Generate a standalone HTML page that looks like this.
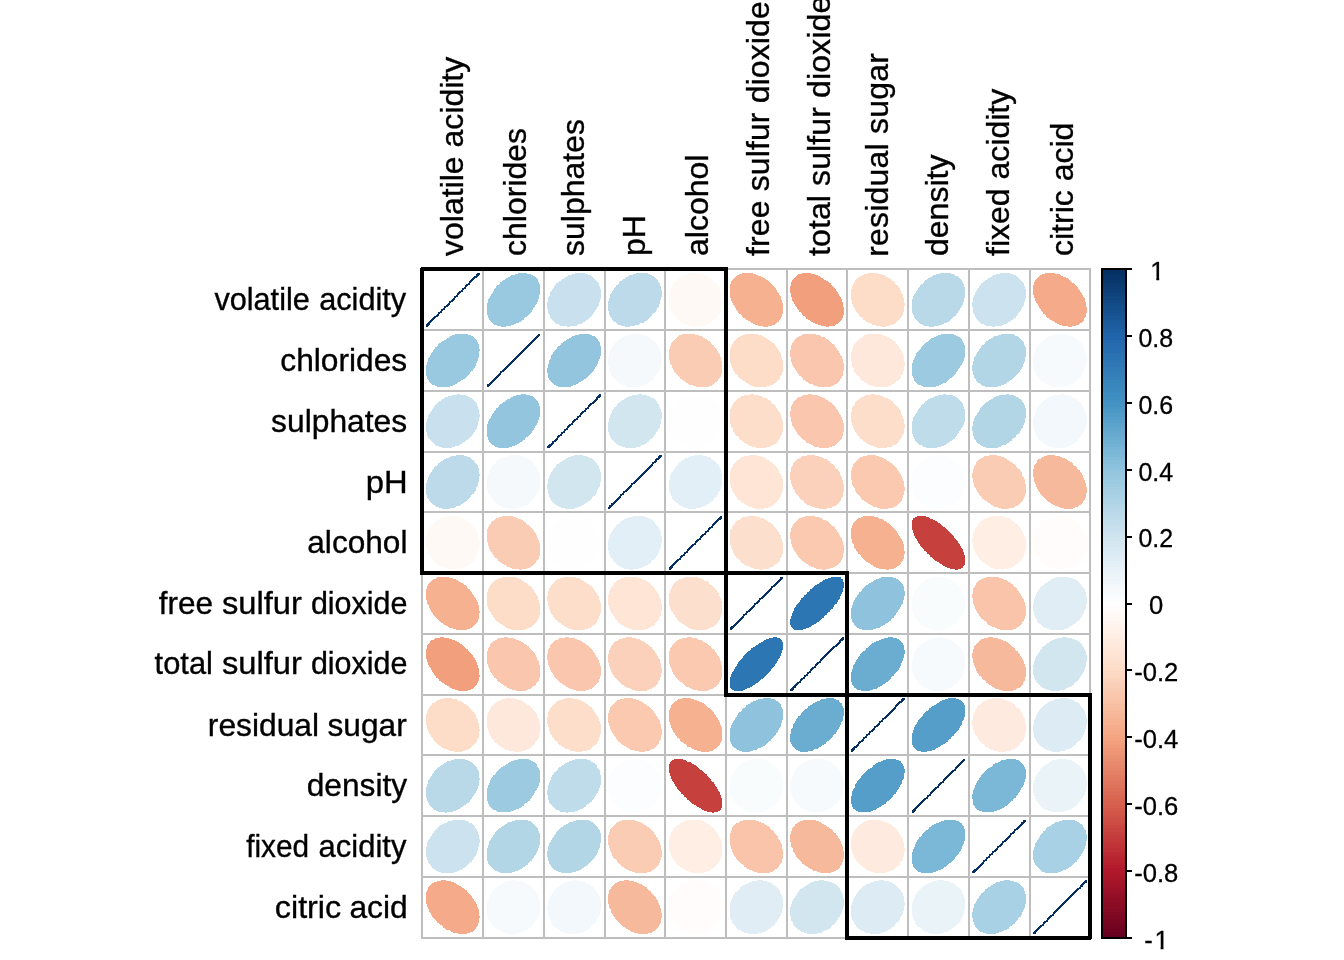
<!DOCTYPE html>
<html lang="en"><head><meta charset="utf-8"><title>Wine correlation plot</title>
<style>html,body{margin:0;padding:0;background:#fff;}body{width:1344px;height:960px;overflow:hidden;}svg{display:block;}</style></head>
<body>
<svg width="1344" height="960" viewBox="0 0 1344 960">
<rect width="1344" height="960" fill="#fff"/>
<g shape-rendering="crispEdges" stroke-width="2" stroke-linejoin="round" stroke-linecap="round">
<polyline points="479,274 478,274 478,275 477,275 477,276 476,277 475,277 474,278 473,279 472,280 471,281 470,282 469,284 467,285 466,286 465,288 463,289 462,291 460,292 458,294 457,296 455,297 454,299 452,301 450,302 449,304 447,306 445,307 444,309 442,310 441,312 439,313 438,315 437,316 435,317 434,318 433,319 432,320 431,321 430,322 429,323 429,324 428,324 428,325 427,325 427,326 427,325 428,325 428,324 429,324 429,323 430,322 431,321 432,320 433,319 434,318 435,317 437,316 438,315 439,313 441,312 442,310 444,309 445,307 447,306 449,304 450,302 452,301 454,299 455,297 457,296 458,294 460,292 462,291 463,289 465,288 466,286 467,285 469,284 470,282 471,281 472,280 473,279 474,278 475,277 476,277 477,276 477,275 478,275 478,274 479,274" fill="none" stroke="#053061" stroke-width="2.2"/>
<polygon points="535,278 534,277 533,277 532,276 530,275 529,275 528,275 526,274 525,274 524,274 522,274 520,274 519,274 517,275 516,275 514,276 512,276 511,277 509,278 507,279 506,280 504,281 503,282 501,283 500,285 498,286 497,287 496,289 495,290 494,292 493,294 492,295 491,297 490,299 489,300 489,302 488,304 488,305 488,307 488,308 488,310 488,311 488,313 488,314 489,316 489,317 490,318 490,319 491,320 492,321 493,322 494,323 495,324 496,324 498,325 499,325 500,325 502,326 503,326 505,326 506,325 508,325 510,325 511,324 513,324 515,323 516,322 518,322 520,321 521,320 523,319 524,317 526,316 527,315 529,313 530,312 531,311 532,309 533,307 534,306 535,304 536,303 537,301 537,299 538,298 538,296 539,294 539,293 539,291 539,290 539,288 539,287 539,285 538,284 538,283 537,281 537,280 536,279 535,278" fill="#99C9E0" stroke="#99C9E0"/>
<polygon points="594,280 593,279 592,278 591,277 590,276 588,276 587,275 585,275 584,274 582,274 581,274 579,274 577,274 576,274 574,275 573,275 571,276 569,276 568,277 566,278 565,279 563,280 562,281 560,282 559,283 557,284 556,286 555,287 554,289 553,290 552,292 551,293 551,295 550,297 549,298 549,300 549,301 548,303 548,305 548,306 548,308 549,309 549,311 549,312 550,314 551,315 551,317 552,318 553,319 554,320 555,321 556,322 557,323 559,323 560,324 561,325 563,325 564,325 566,325 568,326 569,326 571,325 572,325 574,325 576,325 577,324 579,323 581,323 582,322 584,321 585,320 587,319 588,318 590,316 591,315 592,314 593,312 594,311 595,309 596,308 597,306 598,305 598,303 599,301 599,300 600,298 600,296 600,295 600,293 600,292 600,290 599,289 599,287 598,286 598,284 597,283 596,282 595,281 594,280" fill="#C9E1EE" stroke="#C9E1EE"/>
<polygon points="655,279 654,278 653,277 652,277 651,276 649,275 648,275 647,274 645,274 643,274 642,274 640,274 639,274 637,274 635,275 634,275 632,276 630,276 629,277 627,278 626,279 624,280 623,281 621,282 620,283 619,285 617,286 616,288 615,289 614,291 613,292 612,294 611,295 611,297 610,299 610,300 609,302 609,304 609,305 609,307 609,308 609,310 610,311 610,313 610,314 611,316 612,317 613,318 613,319 614,320 615,321 617,322 618,323 619,324 620,324 622,325 623,325 625,325 626,326 628,326 629,326 631,325 633,325 634,325 636,324 638,324 639,323 641,322 643,322 644,321 646,320 647,319 649,317 650,316 651,315 652,313 654,312 655,311 656,309 657,307 658,306 658,304 659,303 659,301 660,299 660,298 661,296 661,294 661,293 661,291 660,290 660,288 660,287 659,285 659,284 658,283 657,281 656,280 655,279" fill="#BCDAEA" stroke="#BCDAEA"/>
<polygon points="713,282 712,281 711,280 710,279 708,278 707,277 705,276 704,276 702,275 700,275 699,274 697,274 696,274 694,274 692,274 691,274 689,275 687,275 686,276 684,276 683,277 681,278 680,279 679,280 678,281 676,282 675,283 674,284 673,286 673,287 672,289 671,290 671,292 670,293 670,295 670,296 670,298 670,300 670,301 670,303 670,305 671,306 671,308 672,309 673,311 674,312 674,314 675,315 677,316 678,318 679,319 680,320 682,321 683,322 684,323 686,323 688,324 689,324 691,325 692,325 694,325 696,326 697,326 699,325 701,325 702,325 704,325 705,324 707,323 708,323 710,322 711,321 712,320 714,319 715,318 716,317 717,315 718,314 719,313 719,311 720,310 720,308 721,306 721,305 721,303 721,301 721,300 721,298 721,297 721,295 720,293 720,292 719,290 718,289 718,287 717,286 716,284 715,283 713,282" fill="#FFF9F5" stroke="#FFF9F5"/>
<polygon points="771,285 770,284 768,282 767,281 765,280 764,279 762,278 760,277 759,277 757,276 755,275 754,275 752,274 750,274 749,274 747,274 746,274 744,274 743,274 741,275 740,275 739,276 738,276 737,277 736,278 735,279 734,280 733,281 732,282 732,284 731,285 731,286 731,288 731,289 731,291 731,292 731,294 731,296 731,297 732,299 732,300 733,302 734,304 735,305 736,307 737,309 738,310 739,312 740,313 742,314 743,316 744,317 746,318 747,319 749,320 751,321 752,322 754,323 756,324 757,324 759,325 761,325 762,325 764,326 765,326 767,326 768,325 770,325 771,325 772,324 774,324 775,323 776,322 777,321 778,321 779,319 780,318 780,317 781,316 781,315 782,313 782,312 782,310 782,309 782,307 782,306 782,304 781,302 781,301 780,299 780,297 779,296 778,294 777,293 776,291 775,289 774,288 772,286 771,285" fill="#F6B191" stroke="#F6B191"/>
<polygon points="831,286 830,284 828,283 827,282 825,281 823,280 822,279 820,278 819,277 817,276 815,276 814,275 812,275 810,274 809,274 807,274 806,274 804,274 803,274 801,275 800,275 799,275 798,276 797,277 796,278 795,279 794,280 793,281 793,282 792,283 792,284 792,286 791,287 791,288 791,290 791,292 792,293 792,295 792,296 793,298 793,300 794,301 795,303 796,305 797,306 798,308 799,309 800,311 802,312 803,314 804,315 806,316 807,318 809,319 811,320 812,321 814,322 816,323 817,323 819,324 820,324 822,325 824,325 825,325 827,326 828,326 830,325 831,325 833,325 834,325 835,324 836,323 837,323 838,322 839,321 840,320 841,319 841,318 842,317 842,315 843,314 843,313 843,311 843,310 843,308 842,306 842,305 842,303 841,302 841,300 840,298 839,297 838,295 837,293 836,292 835,290 834,289 832,287 831,286" fill="#F19F7D" stroke="#F19F7D"/>
<polygon points="894,283 893,282 891,281 890,280 889,279 887,278 885,277 884,276 882,276 881,275 879,275 877,274 876,274 874,274 872,274 871,274 869,274 868,275 866,275 865,275 863,276 862,277 861,277 859,278 858,279 857,280 856,281 855,283 855,284 854,285 853,287 853,288 852,290 852,291 852,293 852,294 852,296 852,298 852,299 853,301 853,303 854,304 854,306 855,307 856,309 857,311 858,312 859,313 860,315 861,316 863,317 864,319 866,320 867,321 869,322 870,322 872,323 873,324 875,324 877,325 878,325 880,325 882,326 883,326 885,326 886,325 888,325 889,325 891,324 892,324 894,323 895,322 896,321 897,320 898,319 899,318 900,317 901,316 902,314 902,313 903,311 903,310 903,308 903,307 904,305 904,304 903,302 903,300 903,299 902,297 902,295 901,294 900,292 900,291 899,289 898,288 897,286 895,285 894,283" fill="#FDDCC8" stroke="#FDDCC8"/>
<polygon points="959,279 958,278 957,277 956,277 954,276 953,275 952,275 950,274 949,274 947,274 946,274 944,274 942,274 941,274 939,275 937,275 936,276 934,276 933,277 931,278 929,279 928,280 926,281 925,282 924,284 922,285 921,286 920,288 919,289 918,291 917,292 916,294 915,295 914,297 914,299 913,300 913,302 913,304 913,305 913,307 913,309 913,310 913,312 914,313 914,314 915,316 915,317 916,318 917,319 918,320 919,321 920,322 921,323 923,324 924,324 925,325 927,325 928,325 930,326 931,326 933,326 935,325 936,325 938,325 939,324 941,324 943,323 944,322 946,322 948,321 949,320 951,318 952,317 953,316 955,315 956,313 957,312 958,310 959,309 960,307 961,306 962,304 962,302 963,301 963,299 964,297 964,296 964,294 964,293 964,291 964,289 964,288 963,287 963,285 962,284 962,283 961,281 960,280 959,279" fill="#B9D9E9" stroke="#B9D9E9"/>
<polygon points="1019,280 1018,279 1017,278 1016,277 1015,276 1013,276 1012,275 1010,275 1009,274 1007,274 1006,274 1004,274 1002,274 1001,274 999,275 997,275 996,276 994,276 993,277 991,278 989,279 988,280 986,281 985,282 984,283 982,284 981,286 980,287 979,289 978,290 977,292 976,293 976,295 975,296 974,298 974,300 974,301 973,303 973,305 973,306 974,308 974,309 974,311 974,312 975,314 976,315 976,316 977,318 978,319 979,320 980,321 981,322 982,323 984,323 985,324 987,325 988,325 990,325 991,325 993,326 994,326 996,325 998,325 999,325 1001,325 1003,324 1004,323 1006,323 1007,322 1009,321 1010,320 1012,319 1013,318 1015,317 1016,315 1017,314 1018,312 1019,311 1020,310 1021,308 1022,306 1023,305 1023,303 1024,301 1024,300 1025,298 1025,297 1025,295 1025,293 1025,292 1025,290 1024,289 1024,287 1023,286 1023,284 1022,283 1021,282 1020,281 1019,280" fill="#CCE2EF" stroke="#CCE2EF"/>
<polygon points="1074,285 1073,284 1071,283 1070,282 1068,280 1067,279 1065,278 1064,278 1062,277 1060,276 1059,275 1057,275 1055,275 1054,274 1052,274 1051,274 1049,274 1048,274 1046,274 1045,275 1043,275 1042,276 1041,276 1040,277 1039,278 1038,279 1037,280 1036,281 1036,282 1035,283 1035,285 1034,286 1034,287 1034,289 1034,290 1034,292 1034,294 1035,295 1035,297 1036,298 1036,300 1037,302 1038,303 1039,305 1040,307 1041,308 1042,310 1043,311 1044,313 1046,314 1047,316 1048,317 1050,318 1051,319 1053,320 1055,321 1056,322 1058,323 1060,324 1061,324 1063,325 1064,325 1066,325 1068,325 1069,326 1071,326 1072,325 1074,325 1075,325 1076,324 1078,324 1079,323 1080,322 1081,322 1082,321 1083,320 1083,319 1084,317 1085,316 1085,315 1085,314 1086,312 1086,311 1086,309 1086,308 1085,306 1085,304 1085,303 1084,301 1084,299 1083,298 1082,296 1081,294 1080,293 1079,291 1078,290 1077,288 1076,287 1074,285" fill="#F5AB8A" stroke="#F5AB8A"/>
<polygon points="474,339 473,338 472,337 471,337 470,336 468,336 467,335 466,335 464,335 463,335 461,335 460,335 458,335 456,335 455,336 453,336 451,337 450,338 448,339 447,340 445,341 443,342 442,343 440,344 439,345 438,347 436,348 435,350 434,351 433,353 432,354 431,356 430,358 429,359 429,361 428,363 428,364 427,366 427,367 427,369 427,371 427,372 427,374 427,375 428,376 428,378 429,379 430,380 430,381 431,382 432,383 433,384 434,384 436,385 437,385 438,386 440,386 441,386 443,386 444,386 446,386 447,386 449,386 451,385 452,385 454,384 456,383 457,382 459,381 460,380 462,379 464,378 465,377 466,376 468,374 469,373 470,371 472,370 473,368 474,367 475,365 475,363 476,362 477,360 477,358 478,357 478,355 478,354 478,352 479,350 478,349 478,347 478,346 478,345 477,343 476,342 476,341 475,340 474,339" fill="#99C9E0" stroke="#99C9E0"/>
<polyline points="539,335 538,336 537,337 536,338 535,339 534,340 533,341 532,342 531,343 530,344 528,346 527,347 525,349 524,350 522,352 521,353 519,355 518,356 516,358 514,360 513,361 511,363 509,365 508,366 506,368 505,369 503,371 501,372 500,374 499,375 497,377 496,378 495,379 494,380 493,381 492,382 491,383 490,384 489,385 488,385 488,386 488,385 489,385 490,384 491,383 492,382 493,381 494,380 495,379 496,378 497,377 499,375 500,374 501,372 503,371 505,369 506,368 508,366 509,365 511,363 513,361 514,360 516,358 518,356 519,355 521,353 522,352 524,350 525,349 527,347 528,346 530,344 531,343 532,342 533,341 534,340 535,339 536,338 537,337 538,336 539,335" fill="none" stroke="#053061" stroke-width="2.2"/>
<polygon points="596,339 595,338 594,337 593,337 591,336 590,336 589,335 587,335 586,335 584,335 583,335 581,335 580,335 578,336 576,336 575,337 573,337 572,338 570,339 568,340 567,341 565,342 564,343 562,344 561,346 559,347 558,348 557,350 556,351 554,353 553,355 552,356 552,358 551,360 550,361 550,363 549,365 549,366 549,368 548,369 548,371 548,372 549,374 549,375 549,377 550,378 550,379 551,380 552,381 553,382 554,383 555,384 556,384 557,385 558,385 559,386 561,386 562,386 564,386 565,386 567,386 569,386 570,386 572,385 573,384 575,384 577,383 578,382 580,381 582,380 583,379 585,378 586,377 588,375 589,374 590,373 592,371 593,370 594,368 595,366 596,365 597,363 597,361 598,360 599,358 599,357 600,355 600,353 600,352 600,350 600,349 600,347 599,346 599,345 599,343 598,342 597,341 597,340 596,339" fill="#93C5DE" stroke="#93C5DE"/>
<polygon points="654,342 652,341 651,340 650,339 648,338 647,337 645,337 644,336 642,335 641,335 639,335 638,335 636,335 634,335 633,335 631,335 629,336 628,336 626,337 625,337 623,338 622,339 620,340 619,341 618,342 616,343 615,345 614,346 613,347 612,349 612,350 611,352 610,353 610,355 610,357 609,358 609,360 609,362 609,363 609,365 610,366 610,368 610,370 611,371 612,373 612,374 613,375 614,377 615,378 616,379 617,380 619,381 620,382 621,383 623,384 624,384 626,385 627,386 629,386 631,386 632,386 634,386 636,386 637,386 639,386 640,385 642,385 644,384 645,384 647,383 648,382 649,381 651,380 652,379 653,378 654,376 655,375 656,374 657,372 658,371 659,369 659,368 660,366 660,364 660,363 661,361 661,360 661,358 660,356 660,355 660,353 659,351 659,350 658,348 657,347 657,346 656,344 655,343 654,342" fill="#F5F9FC" stroke="#F5F9FC"/>
<polygon points="711,345 710,343 709,342 707,341 706,340 704,339 702,338 701,337 699,337 698,336 696,336 694,335 693,335 691,335 689,335 688,335 686,335 685,335 683,335 682,336 680,336 679,337 678,338 677,339 676,340 675,341 674,342 673,343 672,344 672,345 671,347 671,348 670,350 670,351 670,353 670,354 670,356 670,358 670,359 671,361 671,363 672,364 673,366 673,367 674,369 675,371 676,372 677,373 679,375 680,376 681,378 683,379 684,380 686,381 687,382 689,383 690,384 692,384 694,385 695,385 697,386 699,386 700,386 702,386 703,386 705,386 706,386 708,386 709,385 711,385 712,384 713,383 714,382 716,381 717,380 717,379 718,378 719,377 720,376 720,374 721,373 721,371 721,370 721,368 721,367 721,365 721,363 721,362 720,360 720,358 719,357 719,355 718,354 717,352 716,350 715,349 714,348 713,346 711,345" fill="#FACCB4" stroke="#FACCB4"/>
<polygon points="773,344 771,343 770,342 769,341 767,340 766,339 764,338 762,337 761,336 759,336 757,335 756,335 754,335 753,335 751,335 749,335 748,335 746,335 745,336 743,336 742,337 741,337 739,338 738,339 737,340 736,341 735,342 734,343 733,345 733,346 732,347 731,349 731,350 731,352 731,354 731,355 731,357 731,358 731,360 731,362 732,363 732,365 733,367 734,368 734,370 735,371 736,373 738,374 739,376 740,377 741,378 743,379 744,380 746,381 747,382 749,383 750,384 752,385 753,385 755,386 757,386 758,386 760,386 762,386 763,386 765,386 766,386 768,385 769,385 771,384 772,384 773,383 775,382 776,381 777,380 778,379 779,378 779,376 780,375 781,374 781,372 782,371 782,369 782,368 782,366 782,364 782,363 782,361 781,359 781,358 780,356 780,354 779,353 778,351 777,350 776,348 775,347 774,345 773,344" fill="#FDDCC8" stroke="#FDDCC8"/>
<polygon points="833,345 831,344 830,343 828,341 827,340 825,339 824,338 822,338 820,337 819,336 817,336 815,335 814,335 812,335 811,335 809,335 807,335 806,335 804,335 803,336 802,336 800,337 799,338 798,338 797,339 796,340 795,341 794,343 793,344 793,345 792,346 792,348 792,349 791,351 791,352 791,354 791,356 792,357 792,359 792,361 793,362 793,364 794,366 795,367 796,369 797,370 798,372 799,373 800,375 802,376 803,377 804,379 806,380 807,381 809,382 810,383 812,383 814,384 815,385 817,385 819,386 820,386 822,386 824,386 825,386 827,386 828,386 830,386 831,385 832,385 834,384 835,383 836,383 837,382 838,381 839,380 840,378 841,377 841,376 842,375 842,373 842,372 843,370 843,369 843,367 843,365 843,364 842,362 842,360 841,359 841,357 840,356 839,354 838,352 837,351 836,349 835,348 834,346 833,345" fill="#FAC6AD" stroke="#FAC6AD"/>
<polygon points="895,343 894,342 892,341 891,340 889,339 888,338 886,337 885,337 883,336 881,336 880,335 878,335 876,335 875,335 873,335 872,335 870,335 868,335 867,336 865,336 864,337 863,338 861,339 860,340 859,341 858,342 857,343 856,344 855,345 854,347 854,348 853,350 853,351 852,353 852,354 852,356 852,358 852,359 852,361 853,363 853,364 853,366 854,367 855,369 855,371 856,372 857,374 858,375 860,376 861,378 862,379 863,380 865,381 866,382 868,383 869,384 871,384 872,385 874,385 876,386 877,386 879,386 881,386 882,386 884,386 886,386 887,386 889,385 890,385 891,384 893,383 894,382 895,381 897,380 898,379 899,378 900,377 900,376 901,374 902,373 902,371 903,370 903,368 903,367 904,365 904,363 903,362 903,360 903,358 903,357 902,355 902,354 901,352 900,350 899,349 898,347 897,346 896,345 895,343" fill="#FEE8DC" stroke="#FEE8DC"/>
<polygon points="960,339 959,338 958,338 957,337 955,336 954,336 953,335 951,335 950,335 948,335 947,335 945,335 944,335 942,335 940,336 939,336 937,337 935,338 934,339 932,339 931,340 929,342 927,343 926,344 925,345 923,347 922,348 921,350 920,351 918,353 917,354 917,356 916,357 915,359 914,361 914,362 913,364 913,366 913,367 913,369 913,370 913,372 913,373 913,375 914,376 914,377 915,379 915,380 916,381 917,382 918,383 919,384 920,384 922,385 923,385 924,386 926,386 927,386 929,386 930,386 932,386 933,386 935,386 937,385 938,385 940,384 942,383 943,382 945,382 946,381 948,379 949,378 951,377 952,376 954,374 955,373 956,371 957,370 958,368 959,367 960,365 961,364 962,362 963,360 963,359 964,357 964,355 964,354 964,352 964,351 964,349 964,348 964,346 963,345 963,344 962,342 961,341 961,340 960,339" fill="#9CCAE1" stroke="#9CCAE1"/>
<polygon points="1020,340 1019,339 1018,338 1017,337 1015,337 1014,336 1013,335 1011,335 1010,335 1008,335 1007,335 1005,335 1003,335 1002,335 1000,336 999,336 997,337 995,337 994,338 992,339 990,340 989,341 987,342 986,343 985,345 983,346 982,347 981,349 980,350 979,352 978,353 977,355 976,357 975,358 975,360 974,362 974,363 974,365 973,366 973,368 973,370 974,371 974,373 974,374 975,375 975,377 976,378 977,379 977,380 978,381 979,382 981,383 982,384 983,385 984,385 986,386 987,386 989,386 990,386 992,386 993,386 995,386 997,386 998,385 1000,385 1001,384 1003,384 1005,383 1006,382 1008,381 1009,380 1011,379 1012,378 1014,376 1015,375 1016,374 1018,372 1019,371 1020,369 1021,368 1022,366 1022,364 1023,363 1024,361 1024,359 1024,358 1025,356 1025,355 1025,353 1025,351 1025,350 1025,348 1024,347 1024,346 1023,344 1023,343 1022,342 1021,341 1020,340" fill="#B3D6E7" stroke="#B3D6E7"/>
<polygon points="1079,342 1077,341 1076,340 1075,339 1073,338 1072,337 1070,337 1069,336 1067,336 1066,335 1064,335 1062,335 1061,335 1059,335 1058,335 1056,335 1054,336 1053,336 1051,337 1050,337 1048,338 1047,339 1045,340 1044,341 1043,342 1041,343 1040,344 1039,346 1038,347 1037,349 1037,350 1036,352 1035,353 1035,355 1035,356 1034,358 1034,360 1034,361 1034,363 1034,365 1035,366 1035,368 1035,370 1036,371 1037,373 1037,374 1038,375 1039,377 1040,378 1041,379 1042,380 1044,381 1045,382 1046,383 1048,384 1049,384 1051,385 1052,386 1054,386 1056,386 1057,386 1059,386 1061,386 1062,386 1064,386 1066,385 1067,385 1069,384 1070,384 1072,383 1073,382 1075,381 1076,380 1077,379 1078,378 1080,377 1081,375 1081,374 1082,372 1083,371 1084,369 1084,368 1085,366 1085,365 1085,363 1086,361 1086,360 1086,358 1086,356 1085,355 1085,353 1084,352 1084,350 1083,348 1082,347 1082,346 1081,344 1080,343 1079,342" fill="#F7FAFC" stroke="#F7FAFC"/>
<polygon points="473,401 472,400 471,399 469,398 468,398 467,397 465,396 464,396 462,396 461,396 459,395 458,395 456,396 454,396 453,396 451,397 449,397 448,398 446,398 445,399 443,400 442,401 440,402 439,403 437,405 436,406 435,407 434,409 433,410 432,412 431,413 430,415 429,416 429,418 428,420 428,421 427,423 427,425 427,426 427,428 427,429 427,431 428,432 428,434 428,435 429,437 430,438 431,439 432,440 433,441 434,442 435,443 436,444 437,445 439,445 440,446 441,446 443,447 445,447 446,447 448,447 449,447 451,447 453,446 454,446 456,445 458,445 459,444 461,443 462,442 464,441 465,440 467,439 468,438 469,437 471,435 472,434 473,432 474,431 475,429 476,428 476,426 477,425 477,423 478,421 478,420 478,418 479,416 479,415 478,413 478,412 478,410 477,409 477,407 476,406 476,404 475,403 474,402 473,401" fill="#C9E1EE" stroke="#C9E1EE"/>
<polygon points="535,400 534,399 533,398 532,397 531,397 529,396 528,396 527,396 525,395 524,395 522,395 521,396 519,396 517,396 516,397 514,397 512,398 511,399 509,400 508,400 506,402 504,403 503,404 501,405 500,406 499,408 497,409 496,411 495,412 494,414 493,415 492,417 491,419 490,420 489,422 489,424 488,425 488,427 488,428 488,430 488,432 488,433 488,435 488,436 489,437 489,439 490,440 490,441 491,442 492,443 493,444 494,444 495,445 496,446 497,446 499,447 500,447 502,447 503,447 505,447 506,447 508,447 509,446 511,446 513,445 514,445 516,444 518,443 519,442 521,441 522,440 524,439 525,437 527,436 528,435 530,433 531,432 532,430 533,429 534,427 535,425 536,424 537,422 537,421 538,419 538,417 539,416 539,414 539,412 539,411 539,409 539,408 539,407 538,405 538,404 537,403 537,402 536,401 535,400" fill="#93C5DE" stroke="#93C5DE"/>
<polyline points="600,395 600,396 599,396 599,397 598,397 597,398 597,399 596,400 595,401 594,402 593,403 591,404 590,405 589,406 588,408 586,409 585,411 583,412 581,414 580,416 578,417 577,419 575,420 573,422 572,424 570,425 568,427 567,429 565,430 564,432 562,433 561,435 559,436 558,437 557,439 556,440 555,441 553,442 553,443 552,444 551,445 550,445 550,446 549,446 549,447 548,447 549,447 549,446 550,446 550,445 551,445 552,444 553,443 553,442 555,441 556,440 557,439 558,437 559,436 561,435 562,433 564,432 565,430 567,429 568,427 570,425 572,424 573,422 575,420 577,419 578,417 580,416 581,414 583,412 585,411 586,409 588,408 589,406 590,405 591,404 593,403 594,402 595,401 596,400 597,399 597,398 598,397 599,397 599,396 600,396 600,395" fill="none" stroke="#053061" stroke-width="2.2"/>
<polygon points="655,401 654,400 653,399 651,399 650,398 649,397 647,397 646,396 644,396 643,396 641,395 639,395 638,396 636,396 634,396 633,396 631,397 630,397 628,398 626,399 625,400 623,401 622,402 620,403 619,404 618,405 617,407 615,408 614,410 613,411 613,413 612,414 611,416 611,418 610,419 610,421 609,423 609,424 609,426 609,427 609,429 609,431 610,432 610,434 611,435 611,436 612,438 613,439 614,440 615,441 616,442 617,443 618,444 620,445 621,445 623,446 624,446 626,447 627,447 629,447 630,447 632,447 634,447 635,447 637,446 639,446 640,445 642,444 643,444 645,443 646,442 648,441 649,439 651,438 652,437 653,436 654,434 655,433 656,431 657,430 658,428 659,427 659,425 660,423 660,422 660,420 661,418 661,417 661,415 661,413 660,412 660,410 659,409 659,408 658,406 658,405 657,404 656,402 655,401" fill="#D2E6F0" stroke="#D2E6F0"/>
<polygon points="714,403 713,402 711,401 710,400 709,399 707,398 706,397 704,397 702,396 701,396 699,396 698,396 696,395 694,395 693,396 691,396 689,396 688,397 686,397 685,398 683,399 682,399 680,400 679,401 678,402 677,404 676,405 675,406 674,407 673,409 672,410 672,412 671,413 671,415 670,417 670,418 670,420 670,422 670,423 670,425 670,427 671,428 671,430 672,431 673,433 673,434 674,436 675,437 676,438 677,439 679,441 680,442 681,443 683,444 684,444 686,445 687,446 689,446 690,446 692,447 694,447 695,447 697,447 699,447 700,447 702,446 703,446 705,445 706,445 708,444 709,443 711,442 712,441 713,440 714,439 716,438 717,436 717,435 718,434 719,432 720,431 720,429 721,427 721,426 721,424 721,423 721,421 721,419 721,418 721,416 720,414 720,413 719,411 719,410 718,408 717,407 716,406 715,404 714,403" fill="#FFFEFE" stroke="#FFFEFE"/>
<polygon points="773,405 771,404 770,402 769,401 767,400 766,399 764,399 762,398 761,397 759,397 758,396 756,396 754,396 753,395 751,395 749,396 748,396 746,396 745,396 743,397 742,397 741,398 739,399 738,400 737,401 736,402 735,403 734,404 733,406 733,407 732,408 731,410 731,411 731,413 731,414 731,416 731,418 731,419 731,421 731,423 732,424 732,426 733,427 734,429 734,431 735,432 736,434 737,435 739,436 740,438 741,439 743,440 744,441 745,442 747,443 749,444 750,445 752,445 753,446 755,446 757,447 758,447 760,447 762,447 763,447 765,447 766,446 768,446 769,446 771,445 772,444 773,444 775,443 776,442 777,441 778,439 779,438 779,437 780,436 781,434 781,433 782,431 782,430 782,428 782,427 782,425 782,423 782,422 781,420 781,418 780,417 780,415 779,413 778,412 777,410 776,409 775,407 774,406 773,405" fill="#FDDECB" stroke="#FDDECB"/>
<polygon points="833,406 831,404 830,403 828,402 827,401 825,400 824,399 822,398 820,398 819,397 817,396 815,396 814,396 812,396 811,395 809,395 807,396 806,396 804,396 803,397 802,397 800,398 799,398 798,399 797,400 796,401 795,402 794,403 793,405 793,406 792,407 792,409 792,410 791,412 791,413 791,415 791,416 792,418 792,420 792,421 793,423 793,425 794,426 795,428 796,429 797,431 798,433 799,434 800,435 802,437 803,438 804,439 806,440 807,442 809,442 810,443 812,444 814,445 815,446 817,446 819,446 820,447 822,447 823,447 825,447 827,447 828,447 830,446 831,446 832,445 834,445 835,444 836,443 837,442 838,441 839,440 840,439 841,438 841,437 842,435 842,434 842,432 843,431 843,429 843,428 843,426 843,424 842,423 842,421 841,419 841,418 840,416 839,415 838,413 837,411 836,410 835,408 834,407 833,406" fill="#FAC6AD" stroke="#FAC6AD"/>
<polygon points="894,405 893,404 892,402 890,401 889,400 887,399 886,399 884,398 882,397 881,397 879,396 877,396 876,396 874,395 872,395 871,396 869,396 868,396 866,396 865,397 863,398 862,398 861,399 860,400 858,401 857,402 856,403 856,404 855,406 854,407 853,408 853,410 853,411 852,413 852,414 852,416 852,418 852,419 852,421 853,423 853,424 854,426 854,427 855,429 856,431 857,432 858,434 859,435 860,436 861,438 863,439 864,440 865,441 867,442 868,443 870,444 872,445 873,445 875,446 876,446 878,447 880,447 881,447 883,447 885,447 886,447 888,446 889,446 891,446 892,445 893,444 895,444 896,443 897,442 898,441 899,439 900,438 901,437 901,436 902,434 903,433 903,431 903,430 903,428 904,427 904,425 903,423 903,422 903,420 902,418 902,417 901,415 900,413 900,412 899,410 898,409 897,407 895,406 894,405" fill="#FDDECB" stroke="#FDDECB"/>
<polygon points="959,401 958,400 957,399 956,398 954,397 953,397 952,396 950,396 949,396 947,396 945,395 944,395 942,396 941,396 939,396 937,397 936,397 934,398 932,399 931,399 929,400 928,401 926,402 925,404 923,405 922,406 921,408 920,409 919,410 918,412 917,414 916,415 915,417 914,418 914,420 913,422 913,423 913,425 913,427 913,428 913,430 913,431 913,433 914,434 914,436 915,437 915,438 916,440 917,441 918,442 919,443 920,444 921,444 923,445 924,446 925,446 927,447 928,447 930,447 931,447 933,447 935,447 936,447 938,446 940,446 941,445 943,445 945,444 946,443 948,442 949,441 951,440 952,439 954,438 955,436 956,435 957,433 958,432 959,430 960,429 961,427 962,426 963,424 963,422 964,421 964,419 964,417 964,416 964,414 964,413 964,411 964,410 963,408 963,407 962,405 962,404 961,403 960,402 959,401" fill="#BFDCEB" stroke="#BFDCEB"/>
<polygon points="1020,400 1019,400 1018,399 1017,398 1015,397 1014,397 1013,396 1011,396 1010,396 1008,395 1007,395 1005,396 1004,396 1002,396 1000,396 999,397 997,397 995,398 994,399 992,400 990,401 989,402 987,403 986,404 985,405 983,407 982,408 981,409 980,411 979,413 978,414 977,416 976,417 975,419 975,421 974,422 974,424 974,426 973,427 973,429 973,430 974,432 974,433 974,435 975,436 975,438 976,439 977,440 977,441 978,442 979,443 981,444 982,445 983,445 984,446 986,446 987,447 989,447 990,447 992,447 993,447 995,447 997,447 998,446 1000,446 1001,445 1003,444 1005,444 1006,443 1008,442 1009,441 1011,440 1012,438 1014,437 1015,436 1016,434 1018,433 1019,432 1020,430 1021,428 1022,427 1022,425 1023,424 1024,422 1024,420 1024,419 1025,417 1025,415 1025,414 1025,412 1025,411 1025,409 1024,408 1024,406 1023,405 1023,404 1022,403 1021,401 1020,400" fill="#B3D6E7" stroke="#B3D6E7"/>
<polygon points="1079,402 1077,401 1076,400 1075,399 1074,399 1072,398 1071,397 1069,397 1068,396 1066,396 1064,396 1063,395 1061,395 1059,396 1058,396 1056,396 1054,396 1053,397 1051,397 1050,398 1048,399 1047,400 1045,401 1044,402 1043,403 1042,404 1040,405 1039,407 1038,408 1038,410 1037,411 1036,413 1036,414 1035,416 1035,417 1034,419 1034,421 1034,422 1034,424 1034,426 1035,427 1035,429 1035,430 1036,432 1037,433 1037,435 1038,436 1039,438 1040,439 1041,440 1042,441 1044,442 1045,443 1046,444 1048,445 1049,445 1051,446 1052,446 1054,447 1055,447 1057,447 1059,447 1060,447 1062,447 1064,447 1065,446 1067,446 1069,445 1070,444 1072,444 1073,443 1074,442 1076,441 1077,440 1078,438 1079,437 1080,436 1081,434 1082,433 1083,431 1084,430 1084,428 1085,427 1085,425 1085,423 1086,422 1086,420 1086,418 1086,417 1085,415 1085,414 1084,412 1084,411 1083,409 1083,408 1082,406 1081,405 1080,404 1079,402" fill="#F2F8FB" stroke="#F2F8FB"/>
<polygon points="473,461 472,461 471,460 470,459 469,458 467,458 466,457 464,457 463,456 461,456 460,456 458,456 457,456 455,457 453,457 452,457 450,458 448,459 447,459 445,460 444,461 442,462 441,463 439,464 438,466 436,467 435,468 434,470 433,471 432,473 431,474 430,476 429,478 429,479 428,481 428,483 427,484 427,486 427,487 427,489 427,491 427,492 427,494 428,495 428,497 429,498 430,499 430,500 431,501 432,502 433,503 434,504 436,505 437,506 438,506 440,507 441,507 443,508 444,508 446,508 447,508 449,508 451,507 452,507 454,507 455,506 457,505 459,505 460,504 462,503 463,502 465,501 466,500 468,498 469,497 470,496 471,494 473,493 474,491 475,490 475,488 476,486 477,485 477,483 478,481 478,480 478,478 478,477 479,475 478,473 478,472 478,470 478,469 477,467 477,466 476,465 475,464 474,463 473,461" fill="#BCDAEA" stroke="#BCDAEA"/>
<polygon points="532,463 531,462 530,461 528,460 527,459 526,459 524,458 522,457 521,457 519,457 518,456 516,456 514,456 513,456 511,456 509,457 508,457 506,458 505,458 503,459 502,460 500,460 499,461 497,462 496,464 495,465 494,466 493,467 492,469 491,470 490,472 490,473 489,475 489,476 488,478 488,480 488,481 488,483 488,485 488,486 488,488 488,489 489,491 489,493 490,494 491,496 492,497 493,498 494,499 495,501 496,502 497,503 499,504 500,505 501,505 503,506 504,507 506,507 508,507 509,508 511,508 512,508 514,508 516,508 517,507 519,507 521,506 522,506 524,505 525,504 527,504 528,503 529,502 531,500 532,499 533,498 534,497 535,495 536,494 537,492 537,491 538,489 538,488 539,486 539,484 539,483 539,481 539,479 539,478 539,476 538,474 538,473 537,471 537,470 536,468 535,467 534,466 533,465 532,463" fill="#F5F9FC" stroke="#F5F9FC"/>
<polygon points="594,462 593,461 592,460 591,459 589,459 588,458 586,457 585,457 583,457 582,456 580,456 579,456 577,456 575,456 574,457 572,457 570,458 569,458 567,459 566,460 564,461 563,462 561,463 560,464 558,465 557,466 556,468 555,469 554,470 553,472 552,473 551,475 550,477 550,478 549,480 549,482 549,483 548,485 548,487 548,488 549,490 549,491 549,493 550,494 550,496 551,497 551,498 552,500 553,501 554,502 555,503 556,504 558,505 559,505 560,506 562,507 563,507 565,507 566,508 568,508 570,508 571,508 573,508 575,507 576,507 578,506 579,506 581,505 583,504 584,503 586,502 587,501 589,500 590,499 591,498 592,496 594,495 595,494 596,492 596,491 597,489 598,487 599,486 599,484 599,482 600,481 600,479 600,477 600,476 600,474 600,473 599,471 599,470 598,468 598,467 597,466 596,464 595,463 594,462" fill="#D2E6F0" stroke="#D2E6F0"/>
<polyline points="661,456 660,456 660,457 659,457 659,458 658,459 657,459 656,460 656,461 655,462 653,463 652,465 651,466 650,467 648,469 647,470 645,472 644,473 642,475 641,476 639,478 637,480 636,481 634,483 632,484 631,486 629,488 628,489 626,491 624,492 623,494 621,495 620,497 619,498 618,499 616,501 615,502 614,503 613,504 612,504 612,505 611,506 610,506 610,507 609,508 610,507 610,506 611,506 612,505 612,504 613,504 614,503 615,502 616,501 618,499 619,498 620,497 621,495 623,494 624,492 626,491 628,489 629,488 631,486 632,484 634,483 636,481 637,480 639,478 641,476 642,475 644,473 645,472 647,470 648,469 650,467 651,466 652,465 653,463 655,462 656,461 656,460 657,459 658,459 659,458 659,457 660,457 660,456 661,456" fill="none" stroke="#053061" stroke-width="2.2"/>
<polygon points="715,463 714,462 713,461 711,460 710,459 709,458 707,458 706,457 704,457 702,456 701,456 699,456 698,456 696,456 694,457 693,457 691,457 689,458 688,459 686,459 685,460 683,461 682,462 680,463 679,464 678,466 677,467 676,468 675,470 674,471 673,473 672,474 671,476 671,477 671,479 670,481 670,482 670,484 670,486 670,487 670,489 670,490 671,492 671,493 672,495 673,496 673,498 674,499 675,500 676,501 677,502 679,503 680,504 681,505 683,506 684,506 686,507 687,507 689,508 690,508 692,508 694,508 695,508 697,507 699,507 700,507 702,506 703,505 705,505 706,504 708,503 709,502 711,501 712,500 713,498 714,497 716,496 717,494 717,493 718,491 719,490 720,488 720,487 721,485 721,483 721,482 721,480 721,478 721,477 721,475 721,474 720,472 720,470 719,469 719,468 718,466 717,465 716,464 715,463" fill="#E2EFF6" stroke="#E2EFF6"/>
<polygon points="773,465 772,464 771,463 769,462 768,461 766,460 765,459 763,458 761,458 760,457 758,457 756,456 755,456 753,456 752,456 750,456 748,457 747,457 745,457 744,458 742,458 741,459 740,460 738,461 737,462 736,463 735,464 734,465 734,467 733,468 732,469 732,471 731,472 731,474 731,476 731,477 731,479 731,481 731,482 731,484 732,485 732,487 733,489 733,490 734,492 735,493 736,495 737,496 738,498 739,499 741,500 742,501 743,502 745,503 746,504 748,505 750,506 751,506 753,507 754,507 756,508 758,508 759,508 761,508 763,508 764,507 766,507 767,507 769,506 770,506 772,505 773,504 774,503 775,502 776,501 777,500 778,499 779,497 780,496 780,495 781,493 781,492 782,490 782,488 782,487 782,485 782,483 782,482 782,480 781,479 781,477 780,475 779,474 778,472 778,471 777,469 776,468 774,466 773,465" fill="#FEE5D6" stroke="#FEE5D6"/>
<polygon points="833,466 832,465 830,464 829,462 827,461 826,460 824,460 823,459 821,458 819,458 818,457 816,457 814,456 813,456 811,456 809,456 808,456 806,457 805,457 803,457 802,458 801,459 800,459 798,460 797,461 796,462 795,463 794,464 794,466 793,467 792,468 792,470 792,471 791,473 791,474 791,476 791,478 791,479 792,481 792,483 793,484 793,486 794,488 795,489 796,491 796,492 798,494 799,495 800,497 801,498 802,499 804,500 805,502 807,503 808,504 810,504 811,505 813,506 815,506 816,507 818,507 820,508 821,508 823,508 825,508 826,508 828,507 829,507 831,507 832,506 833,505 835,505 836,504 837,503 838,502 839,501 840,500 840,498 841,497 842,496 842,494 842,493 843,491 843,490 843,488 843,486 843,485 842,483 842,481 841,480 841,478 840,476 839,475 839,473 838,472 837,470 835,469 834,467 833,466" fill="#FBD1BB" stroke="#FBD1BB"/>
<polygon points="893,466 892,465 891,464 889,463 888,462 886,461 885,460 883,459 881,458 880,458 878,457 876,457 875,456 873,456 871,456 870,456 868,456 867,457 865,457 864,457 863,458 861,458 860,459 859,460 858,461 857,462 856,463 855,464 854,465 854,467 853,468 853,470 852,471 852,473 852,474 852,476 852,477 852,479 853,481 853,482 853,484 854,486 855,487 856,489 856,490 857,492 858,493 860,495 861,496 862,498 863,499 865,500 866,501 868,502 869,503 871,504 873,505 874,506 876,506 878,507 879,507 881,508 882,508 884,508 886,508 887,508 889,507 890,507 892,507 893,506 894,506 896,505 897,504 898,503 899,502 900,501 901,500 901,499 902,497 902,496 903,494 903,493 903,491 904,490 904,488 903,487 903,485 903,483 903,482 902,480 901,478 901,477 900,475 899,474 898,472 897,471 896,469 895,468 893,466" fill="#FAC9B0" stroke="#FAC9B0"/>
<polygon points="957,464 956,463 954,461 953,460 952,460 950,459 949,458 947,458 946,457 944,457 942,456 941,456 939,456 937,456 936,456 934,457 932,457 931,457 929,458 928,459 926,459 925,460 923,461 922,462 921,463 920,464 919,466 918,467 917,468 916,470 915,471 914,473 914,474 913,476 913,478 913,479 913,481 913,483 913,484 913,486 913,487 914,489 914,491 915,492 915,494 916,495 917,497 918,498 919,499 920,500 921,501 923,503 924,503 925,504 927,505 928,506 930,506 931,507 933,507 935,508 936,508 938,508 940,508 941,508 943,507 944,507 946,507 948,506 949,505 951,505 952,504 953,503 955,502 956,501 957,500 958,498 959,497 960,496 961,494 962,493 962,491 963,490 963,488 964,486 964,485 964,483 964,481 964,480 964,478 964,477 963,475 963,473 962,472 962,470 961,469 960,467 959,466 958,465 957,464" fill="#FCFDFE" stroke="#FCFDFE"/>
<polygon points="1015,466 1014,465 1012,464 1011,463 1009,462 1008,461 1006,460 1005,459 1003,458 1001,458 1000,457 998,457 996,456 995,456 993,456 991,456 990,456 988,457 987,457 985,457 984,458 983,459 982,459 980,460 979,461 978,462 977,463 977,464 976,466 975,467 975,468 974,470 974,471 974,473 973,474 973,476 973,477 974,479 974,481 974,482 975,484 975,486 976,487 977,489 978,491 979,492 980,494 981,495 982,496 983,498 985,499 986,500 988,501 989,502 991,503 992,504 994,505 995,506 997,506 999,507 1000,507 1002,508 1004,508 1005,508 1007,508 1008,508 1010,507 1011,507 1013,507 1014,506 1016,505 1017,505 1018,504 1019,503 1020,502 1021,501 1022,500 1023,498 1023,497 1024,496 1024,494 1025,493 1025,491 1025,490 1025,488 1025,487 1025,485 1024,483 1024,482 1024,480 1023,478 1022,477 1021,475 1021,473 1020,472 1019,470 1017,469 1016,468 1015,466" fill="#FACCB4" stroke="#FACCB4"/>
<polygon points="1075,467 1073,466 1072,464 1071,463 1069,462 1067,461 1066,460 1064,459 1063,459 1061,458 1059,457 1058,457 1056,457 1054,456 1053,456 1051,456 1050,456 1048,456 1047,457 1045,457 1044,458 1043,458 1042,459 1040,460 1039,460 1038,461 1038,462 1037,464 1036,465 1035,466 1035,467 1035,469 1034,470 1034,472 1034,473 1034,475 1034,476 1035,478 1035,480 1035,481 1036,483 1037,485 1037,486 1038,488 1039,490 1040,491 1041,493 1042,494 1044,496 1045,497 1046,498 1048,500 1049,501 1051,502 1052,503 1054,504 1056,505 1057,505 1059,506 1061,507 1062,507 1064,507 1065,508 1067,508 1069,508 1070,508 1072,508 1073,507 1074,507 1076,506 1077,506 1078,505 1079,504 1080,504 1081,503 1082,502 1083,500 1084,499 1084,498 1085,497 1085,495 1085,494 1086,492 1086,491 1086,489 1086,488 1085,486 1085,484 1084,483 1084,481 1083,479 1082,478 1082,476 1081,474 1080,473 1079,471 1077,470 1076,468 1075,467" fill="#F7B99B" stroke="#F7B99B"/>
<polygon points="471,525 469,524 468,523 467,522 465,521 464,520 462,519 461,519 459,518 458,518 456,517 454,517 453,517 451,517 449,517 448,517 446,518 445,518 443,518 441,519 440,520 439,521 437,522 436,523 435,524 434,525 432,526 432,527 431,529 430,530 429,531 428,533 428,535 428,536 427,538 427,539 427,541 427,543 427,544 427,546 428,548 428,549 429,551 429,552 430,554 431,555 432,557 433,558 434,559 435,561 436,562 437,563 439,564 440,565 442,566 443,566 445,567 446,567 448,568 449,568 451,568 453,569 454,569 456,568 458,568 459,568 461,567 462,567 464,566 465,566 467,565 468,564 469,563 471,562 472,561 473,560 474,558 475,557 476,555 476,554 477,552 477,551 478,549 478,548 478,546 479,544 479,543 478,541 478,540 478,538 477,536 477,535 476,533 476,532 475,530 474,529 473,527 472,526 471,525" fill="#FFF9F5" stroke="#FFF9F5"/>
<polygon points="529,527 528,526 526,525 525,523 523,522 522,521 520,520 519,520 517,519 515,518 514,518 512,517 510,517 509,517 507,517 506,517 504,517 503,517 501,518 500,518 498,519 497,519 496,520 495,521 493,522 492,523 492,524 491,525 490,526 489,528 489,529 488,530 488,532 488,533 488,535 488,537 488,538 488,540 488,541 489,543 489,545 490,546 490,548 491,550 492,551 493,553 494,554 495,556 496,557 498,558 499,560 500,561 502,562 503,563 505,564 507,565 508,566 510,566 511,567 513,568 515,568 516,568 518,568 520,569 521,569 523,568 524,568 526,568 527,567 529,567 530,566 531,565 532,565 533,564 534,563 535,562 536,560 537,559 538,558 538,557 539,555 539,554 539,552 539,551 539,549 539,547 539,546 539,544 538,542 538,541 537,539 536,537 536,536 535,534 534,533 533,531 532,530 530,528 529,527" fill="#FACCB4" stroke="#FACCB4"/>
<polygon points="592,525 591,523 590,522 589,521 587,520 586,520 584,519 583,518 581,518 579,517 578,517 576,517 575,517 573,517 571,517 570,517 568,518 566,518 565,519 563,519 562,520 560,521 559,522 558,523 556,524 555,525 554,526 553,528 552,529 551,530 551,532 550,533 550,535 549,537 549,538 549,540 548,541 548,543 548,545 549,546 549,548 549,550 550,551 550,553 551,554 552,556 553,557 554,558 555,560 556,561 557,562 558,563 560,564 561,565 563,566 564,566 566,567 567,568 569,568 570,568 572,568 574,569 575,569 577,568 579,568 580,568 582,567 583,567 585,566 586,565 588,565 589,564 591,563 592,562 593,560 594,559 595,558 596,556 597,555 598,554 598,552 599,551 599,549 600,547 600,546 600,544 600,542 600,541 600,539 599,537 599,536 598,534 598,533 597,531 596,530 596,528 595,527 594,526 592,525" fill="#FFFEFE" stroke="#FFFEFE"/>
<polygon points="654,523 653,522 652,521 651,520 649,520 648,519 646,518 645,518 643,517 642,517 640,517 638,517 637,517 635,517 634,517 632,518 630,518 629,519 627,519 625,520 624,521 622,522 621,523 620,524 618,525 617,526 616,528 615,529 614,530 613,532 612,533 611,535 611,536 610,538 610,540 609,541 609,543 609,545 609,546 609,548 609,550 610,551 610,553 611,554 611,556 612,557 613,558 614,560 614,561 616,562 617,563 618,564 619,565 621,566 622,566 623,567 625,568 626,568 628,568 630,568 631,569 633,569 635,568 636,568 638,568 639,567 641,567 643,566 644,565 646,565 647,564 649,563 650,562 651,560 653,559 654,558 655,557 656,555 657,554 658,552 658,551 659,549 660,547 660,546 660,544 661,542 661,541 661,539 661,537 660,536 660,534 660,533 659,531 659,530 658,528 657,527 656,526 655,525 654,523" fill="#E2EFF6" stroke="#E2EFF6"/>
<polyline points="721,517 721,518 720,518 720,519 719,519 718,520 717,521 716,522 715,523 714,524 713,525 712,527 710,528 709,529 708,531 706,532 705,534 703,535 701,537 700,539 698,540 696,542 695,544 693,545 691,547 690,548 688,550 687,552 685,553 684,555 682,556 681,557 680,559 678,560 677,561 676,562 675,563 674,564 673,565 672,566 672,567 671,567 671,568 670,568 670,569 670,568 671,568 671,567 672,567 672,566 673,565 674,564 675,563 676,562 677,561 678,560 680,559 681,557 682,556 684,555 685,553 687,552 688,550 690,548 691,547 693,545 695,544 696,542 698,540 700,539 701,537 703,535 705,534 706,532 708,531 709,529 710,528 712,527 713,525 714,524 715,523 716,522 717,521 718,520 719,519 720,519 720,518 721,518 721,517" fill="none" stroke="#053061" stroke-width="2.2"/>
<polygon points="773,526 772,525 770,524 769,523 767,522 766,521 764,520 763,519 761,519 759,518 758,518 756,517 754,517 753,517 751,517 750,517 748,517 746,518 745,518 743,518 742,519 741,520 739,521 738,521 737,522 736,523 735,525 734,526 733,527 733,528 732,530 731,531 731,533 731,534 731,536 731,538 731,539 731,541 731,542 731,544 732,546 732,547 733,549 734,551 734,552 735,554 736,555 737,557 739,558 740,559 741,560 742,562 744,563 745,564 747,565 748,565 750,566 752,567 753,567 755,568 757,568 758,568 760,569 762,569 763,568 765,568 766,568 768,568 769,567 771,566 772,566 773,565 774,564 776,563 777,562 778,561 779,560 779,558 780,557 781,556 781,554 782,553 782,551 782,550 782,548 782,546 782,545 782,543 781,541 781,540 780,538 780,536 779,535 778,533 777,532 776,530 775,529 774,528 773,526" fill="#FDDFCE" stroke="#FDDFCE"/>
<polygon points="833,527 831,526 830,525 828,523 827,522 825,521 824,521 822,520 821,519 819,518 817,518 816,518 814,517 812,517 811,517 809,517 808,517 806,517 805,518 803,518 802,519 800,519 799,520 798,521 797,522 796,523 795,524 794,525 794,526 793,527 792,529 792,530 792,532 791,533 791,535 791,536 791,538 792,540 792,541 792,543 793,545 793,546 794,548 795,550 796,551 797,553 798,554 799,556 800,557 801,558 803,560 804,561 806,562 807,563 809,564 810,565 812,566 813,566 815,567 817,568 818,568 820,568 822,568 823,569 825,569 826,568 828,568 829,568 831,567 832,567 834,566 835,565 836,565 837,564 838,563 839,562 840,561 841,559 841,558 842,557 842,555 842,554 843,552 843,551 843,549 843,547 843,546 842,544 842,542 841,541 841,539 840,538 839,536 838,534 837,533 836,531 835,530 834,528 833,527" fill="#FAC9B0" stroke="#FAC9B0"/>
<polygon points="892,528 891,527 890,526 888,524 886,523 885,522 883,521 882,520 880,520 878,519 877,518 875,518 873,517 872,517 870,517 869,517 867,517 866,517 864,517 863,518 862,518 860,519 859,519 858,520 857,521 856,522 855,523 854,524 854,525 853,526 853,528 852,529 852,531 852,532 852,534 852,535 852,537 852,538 853,540 853,542 854,543 855,545 855,547 856,548 857,550 858,551 859,553 861,554 862,556 863,557 865,559 866,560 867,561 869,562 871,563 872,564 874,565 875,566 877,567 879,567 880,568 882,568 884,568 885,568 887,569 888,569 890,568 891,568 893,568 894,567 895,567 896,566 898,565 899,564 900,563 901,561 902,560 902,559 903,558 903,556 903,555 904,553 904,552 903,550 903,549 903,547 903,545 902,544 902,542 901,540 900,539 899,537 898,536 897,534 896,532 895,531 894,530 892,528" fill="#F6B191" stroke="#F6B191"/>
<polygon points="949,533 947,531 946,530 944,528 942,527 941,526 939,524 937,523 936,522 934,521 932,520 931,520 929,519 928,518 926,518 925,517 923,517 922,517 921,517 920,517 919,517 918,517 917,518 916,518 915,519 914,519 914,520 913,521 913,522 913,523 913,524 913,525 913,526 913,528 913,529 914,531 914,532 915,534 915,535 916,537 917,538 918,540 919,542 920,543 921,545 923,547 924,548 925,550 927,551 928,553 930,554 931,556 933,557 935,559 936,560 938,561 940,562 941,563 943,564 944,565 946,566 948,567 949,567 951,568 952,568 953,568 955,568 956,569 957,569 958,568 959,568 960,568 961,567 962,567 962,566 963,565 964,564 964,563 964,561 964,560 964,559 964,558 964,556 963,555 963,553 962,552 962,550 961,549 960,547 959,545 958,544 957,542 956,541 954,539 953,537 952,536 950,534 949,533" fill="#C6403E" stroke="#C6403E"/>
<polygon points="1017,525 1015,524 1014,523 1013,522 1011,521 1010,520 1008,519 1007,519 1005,518 1003,518 1002,517 1000,517 998,517 997,517 995,517 993,517 992,517 990,518 989,518 987,519 986,519 984,520 983,521 982,522 981,523 980,524 979,525 978,527 977,528 976,529 975,531 975,532 974,534 974,535 974,537 973,539 973,540 973,542 974,544 974,545 974,547 975,548 975,550 976,552 977,553 978,555 979,556 980,558 981,559 982,560 983,561 984,562 986,563 987,564 989,565 990,566 992,567 993,567 995,568 997,568 998,568 1000,568 1002,569 1003,568 1005,568 1007,568 1008,568 1010,567 1011,567 1013,566 1014,565 1015,564 1017,563 1018,562 1019,561 1020,560 1021,559 1022,557 1022,556 1023,555 1024,553 1024,552 1025,550 1025,548 1025,547 1025,545 1025,544 1025,542 1025,540 1024,539 1024,537 1023,535 1022,534 1022,532 1021,531 1020,529 1019,528 1018,527 1017,525" fill="#FEEEE4" stroke="#FEEEE4"/>
<polygon points="1078,525 1077,523 1076,522 1074,521 1073,521 1071,520 1070,519 1068,518 1067,518 1065,518 1063,517 1062,517 1060,517 1059,517 1057,517 1055,517 1054,518 1052,518 1050,519 1049,519 1047,520 1046,521 1045,522 1043,523 1042,524 1041,525 1040,526 1039,528 1038,529 1037,530 1036,532 1036,533 1035,535 1035,536 1034,538 1034,540 1034,541 1034,543 1034,545 1034,546 1035,548 1035,550 1036,551 1036,553 1037,554 1038,556 1039,557 1040,558 1041,560 1042,561 1043,562 1044,563 1046,564 1047,565 1048,566 1050,566 1052,567 1053,568 1055,568 1056,568 1058,568 1060,569 1061,569 1063,568 1065,568 1066,568 1068,567 1069,567 1071,566 1072,565 1074,565 1075,564 1076,563 1078,562 1079,560 1080,559 1081,558 1082,557 1083,555 1083,554 1084,552 1085,551 1085,549 1085,547 1086,546 1086,544 1086,542 1086,541 1085,539 1085,538 1085,536 1084,534 1084,533 1083,531 1082,530 1081,528 1080,527 1079,526 1078,525" fill="#FFFCFB" stroke="#FFFCFB"/>
<polygon points="467,589 466,587 465,586 463,585 462,584 460,583 458,582 457,581 455,580 453,580 452,579 450,579 448,578 447,578 445,578 444,578 442,578 441,578 439,578 438,578 437,579 435,580 434,580 433,581 432,582 431,583 430,584 429,585 429,586 428,587 428,589 427,590 427,591 427,593 427,594 427,596 427,598 427,599 428,601 428,603 429,604 430,606 430,607 431,609 432,611 433,612 434,614 435,615 437,617 438,618 439,619 441,621 442,622 444,623 445,624 447,625 449,626 450,627 452,627 454,628 455,628 457,629 459,629 460,629 462,629 463,629 465,629 466,629 468,628 469,628 470,627 471,627 472,626 473,625 474,624 475,623 476,622 477,621 477,620 478,618 478,617 478,615 478,614 479,612 478,611 478,609 478,608 478,606 477,604 477,603 476,601 475,599 474,598 473,596 472,595 471,593 470,592 469,590 467,589" fill="#F6B191" stroke="#F6B191"/>
<polygon points="530,587 528,586 527,585 526,584 524,583 523,582 521,581 520,580 518,579 516,579 515,578 513,578 511,578 510,578 508,578 506,578 505,578 503,578 502,579 500,579 499,580 498,580 496,581 495,582 494,583 493,584 492,585 491,586 490,588 490,589 489,590 489,592 488,593 488,595 488,596 488,598 488,600 488,601 488,603 488,605 489,606 489,608 490,610 491,611 492,613 493,614 494,616 495,617 496,619 497,620 498,621 500,622 501,623 503,624 504,625 506,626 507,627 509,628 511,628 512,629 514,629 516,629 517,629 519,629 520,629 522,629 524,629 525,628 526,628 528,627 529,627 531,626 532,625 533,624 534,623 535,622 536,621 537,619 537,618 538,617 538,615 539,614 539,612 539,610 539,609 539,607 539,606 539,604 538,602 538,601 537,599 537,597 536,596 535,594 534,593 533,591 532,590 531,588 530,587" fill="#FDDCC8" stroke="#FDDCC8"/>
<polygon points="591,587 589,586 588,585 586,584 585,583 583,582 582,581 580,580 579,579 577,579 575,578 574,578 572,578 570,578 569,578 567,578 566,578 564,578 563,579 561,579 560,580 558,580 557,581 556,582 555,583 554,584 553,585 552,586 551,588 550,589 550,590 549,592 549,593 549,595 548,597 548,598 548,600 549,601 549,603 549,605 550,606 550,608 551,610 551,611 552,613 553,614 554,616 555,617 556,619 558,620 559,621 560,622 562,623 563,624 565,625 566,626 568,627 570,628 571,628 573,629 575,629 576,629 578,629 579,629 581,629 583,629 584,629 586,628 587,628 589,627 590,627 591,626 592,625 594,624 595,623 596,622 596,620 597,619 598,618 598,616 599,615 599,614 600,612 600,610 600,609 600,607 600,606 600,604 599,602 599,601 598,599 598,597 597,596 596,594 595,593 594,591 593,590 592,588 591,587" fill="#FDDECB" stroke="#FDDECB"/>
<polygon points="652,587 650,585 649,584 648,583 646,582 645,581 643,581 642,580 640,579 638,579 637,578 635,578 633,578 632,578 630,578 628,578 627,578 625,578 624,579 622,579 621,580 620,581 618,581 617,582 616,583 615,584 614,586 613,587 612,588 611,590 611,591 610,592 610,594 609,596 609,597 609,599 609,600 609,602 609,604 610,605 610,607 611,609 611,610 612,612 613,613 614,615 615,616 616,618 617,619 618,620 619,622 621,623 622,624 624,625 625,626 627,626 628,627 630,628 631,628 633,629 635,629 636,629 638,629 640,629 641,629 643,629 644,629 646,628 647,628 649,627 650,626 651,625 653,625 654,624 655,622 656,621 657,620 658,619 658,617 659,616 660,615 660,613 660,611 661,610 661,608 661,607 661,605 660,603 660,602 660,600 659,598 659,597 658,595 657,594 656,592 655,591 654,589 653,588 652,587" fill="#FEE5D6" stroke="#FEE5D6"/>
<polygon points="712,587 711,586 709,585 708,583 707,582 705,582 703,581 702,580 700,579 699,579 697,578 695,578 694,578 692,578 690,578 689,578 687,578 686,578 684,579 683,579 681,580 680,580 679,581 677,582 676,583 675,584 674,585 673,587 673,588 672,589 671,591 671,592 670,594 670,595 670,597 670,598 670,600 670,602 670,603 670,605 671,607 671,608 672,610 673,611 674,613 675,614 676,616 677,617 678,619 679,620 680,621 682,622 683,623 685,624 686,625 688,626 689,627 691,628 693,628 694,629 696,629 698,629 699,629 701,629 702,629 704,629 706,629 707,628 708,628 710,627 711,626 713,626 714,625 715,624 716,623 717,622 718,620 719,619 719,618 720,616 720,615 721,613 721,612 721,610 721,609 721,607 721,605 721,604 721,602 720,600 720,599 719,597 718,596 718,594 717,593 716,591 715,590 713,588 712,587" fill="#FDDFCE" stroke="#FDDFCE"/>
<polyline points="782,578 781,578 781,579 780,580 779,581 778,582 777,583 776,584 775,585 774,586 772,587 771,589 770,590 768,592 767,593 765,595 764,596 762,598 760,599 759,601 757,603 755,604 754,606 752,608 751,609 749,611 747,612 746,614 744,615 743,617 742,618 740,620 739,621 738,622 737,623 736,624 735,625 734,626 733,627 732,627 732,628 731,628 731,629 731,628 732,628 732,627 733,627 734,626 735,625 736,624 737,623 738,622 739,621 740,620 742,618 743,617 744,615 746,614 747,612 749,611 751,609 752,608 754,606 755,604 757,603 759,601 760,599 762,598 764,596 765,595 767,593 768,592 770,590 771,589 772,587 774,586 775,585 776,584 777,583 778,582 779,581 780,580 781,579 781,578 782,578" fill="none" stroke="#053061" stroke-width="2.2"/>
<polygon points="841,580 840,579 840,578 839,578 838,578 837,578 836,578 834,578 833,578 832,578 830,579 829,579 828,580 826,580 824,581 823,582 821,583 820,584 818,585 816,586 815,587 813,589 811,590 810,592 808,593 807,595 805,596 804,598 802,599 801,601 800,603 799,604 797,606 796,608 795,609 795,611 794,612 793,614 793,615 792,617 792,618 791,620 791,621 791,622 791,623 791,624 792,625 792,626 793,627 794,628 795,628 795,629 796,629 797,629 798,629 800,629 801,629 802,629 804,628 805,628 807,627 808,627 810,626 811,625 813,624 815,623 816,622 818,621 819,620 821,618 823,617 824,615 826,614 827,612 829,611 830,609 832,608 833,606 834,604 836,603 837,601 838,599 839,598 839,596 840,595 841,593 842,591 842,590 842,589 843,587 843,586 843,585 843,584 843,583 842,582 842,581 842,580 841,580" fill="#2D76B4" stroke="#2D76B4"/>
<polygon points="899,582 898,581 897,580 896,580 895,579 894,579 892,578 891,578 890,578 888,578 887,578 885,578 883,578 882,578 880,579 879,580 877,580 875,581 874,582 872,583 870,584 869,585 867,586 866,587 864,589 863,590 862,592 860,593 859,595 858,596 857,598 856,599 855,601 854,603 854,604 853,606 853,608 852,609 852,611 852,612 852,614 852,615 852,617 852,618 853,620 853,621 854,622 855,623 855,624 856,625 857,626 858,627 859,627 860,628 862,628 863,629 864,629 866,629 867,629 869,629 870,629 872,629 874,628 875,628 877,627 879,627 880,626 882,625 884,624 885,623 887,622 888,621 890,620 891,618 893,617 894,615 895,614 896,612 897,611 898,609 899,608 900,606 901,604 902,603 902,601 903,599 903,598 903,596 904,595 904,593 904,592 903,590 903,589 903,587 902,586 902,585 901,584 900,583 899,582" fill="#8FC3DD" stroke="#8FC3DD"/>
<polygon points="957,585 956,584 954,583 953,582 952,581 950,580 949,580 947,579 946,579 944,578 943,578 941,578 939,578 938,578 936,578 934,578 933,578 931,579 929,580 928,580 926,581 925,582 924,583 922,584 921,585 920,586 919,587 918,589 917,590 916,591 915,593 915,594 914,596 913,598 913,599 913,601 913,603 913,604 913,606 913,608 913,609 914,611 914,612 915,614 915,615 916,617 917,618 918,620 919,621 920,622 921,623 922,624 924,625 925,626 927,627 928,627 930,628 931,628 933,629 934,629 936,629 938,629 939,629 941,629 943,629 944,628 946,628 947,627 949,627 950,626 952,625 953,624 955,623 956,622 957,621 958,620 959,618 960,617 961,615 962,614 962,612 963,611 963,609 964,608 964,606 964,604 964,603 964,601 964,599 964,598 963,596 963,595 962,593 962,592 961,590 960,589 959,587 958,586 957,585" fill="#F9FCFD" stroke="#F9FCFD"/>
<polygon points="1015,588 1013,587 1012,585 1010,584 1009,583 1007,582 1006,581 1004,581 1003,580 1001,579 999,579 998,578 996,578 994,578 993,578 991,578 990,578 988,578 987,578 985,579 984,579 982,580 981,581 980,581 979,582 978,583 977,584 976,586 976,587 975,588 974,589 974,591 974,592 974,594 973,595 973,597 974,599 974,600 974,602 974,603 975,605 976,607 976,608 977,610 978,612 979,613 980,615 981,616 982,618 984,619 985,620 987,621 988,623 989,624 991,625 993,626 994,626 996,627 998,628 999,628 1001,629 1002,629 1004,629 1006,629 1007,629 1009,629 1010,629 1012,629 1013,628 1015,628 1016,627 1017,626 1018,626 1019,625 1020,624 1021,623 1022,621 1023,620 1023,619 1024,618 1024,616 1025,615 1025,613 1025,612 1025,610 1025,608 1025,607 1024,605 1024,603 1023,602 1023,600 1022,599 1021,597 1020,595 1019,594 1018,592 1017,591 1016,589 1015,588" fill="#F9C4A9" stroke="#F9C4A9"/>
<polygon points="1079,584 1078,583 1077,582 1076,581 1074,580 1073,580 1072,579 1070,579 1068,578 1067,578 1065,578 1064,578 1062,578 1060,578 1059,578 1057,578 1055,579 1054,579 1052,580 1051,581 1049,582 1048,583 1046,584 1045,585 1044,586 1042,587 1041,588 1040,590 1039,591 1038,593 1037,594 1037,596 1036,597 1035,599 1035,601 1035,602 1034,604 1034,606 1034,607 1034,609 1034,610 1035,612 1035,614 1036,615 1036,617 1037,618 1038,619 1038,621 1039,622 1040,623 1042,624 1043,625 1044,626 1045,627 1047,627 1048,628 1050,628 1051,629 1053,629 1055,629 1056,629 1058,629 1059,629 1061,629 1063,629 1064,628 1066,628 1068,627 1069,626 1071,625 1072,624 1074,623 1075,622 1076,621 1078,620 1079,619 1080,617 1081,616 1082,614 1083,613 1083,611 1084,610 1085,608 1085,606 1085,605 1086,603 1086,601 1086,600 1086,598 1085,596 1085,595 1085,593 1084,592 1084,590 1083,589 1082,588 1081,586 1080,585 1079,584" fill="#E0EDF5" stroke="#E0EDF5"/>
<polygon points="467,650 465,649 464,648 462,646 461,645 459,644 458,643 456,642 454,641 453,641 451,640 449,640 448,639 446,639 444,639 443,638 441,638 440,639 439,639 437,639 436,639 435,640 434,641 432,641 431,642 431,643 430,644 429,645 428,646 428,647 428,649 427,650 427,651 427,653 427,654 427,656 427,658 428,659 428,661 429,662 429,664 430,666 431,667 432,669 433,671 434,672 435,674 436,675 437,677 439,678 440,680 442,681 443,682 445,683 446,684 448,685 450,686 451,687 453,688 455,688 456,689 458,689 459,690 461,690 463,690 464,690 465,690 467,690 468,689 470,689 471,688 472,688 473,687 474,686 475,685 476,684 476,683 477,682 477,681 478,680 478,678 478,677 479,676 478,674 478,672 478,671 478,669 477,668 477,666 476,664 476,663 475,661 474,659 473,658 472,656 471,655 469,653 468,652 467,650" fill="#F19F7D" stroke="#F19F7D"/>
<polygon points="529,649 528,647 526,646 525,645 523,644 522,643 520,642 518,641 517,641 515,640 513,639 512,639 510,639 509,639 507,638 505,638 504,639 502,639 501,639 499,639 498,640 497,641 496,641 494,642 493,643 492,644 491,645 491,646 490,648 489,649 489,650 488,652 488,653 488,655 488,656 488,658 488,659 488,661 488,663 489,664 489,666 490,668 491,669 491,671 492,672 493,674 494,675 495,677 497,678 498,680 499,681 501,682 502,683 504,684 505,685 507,686 508,687 510,688 512,688 513,689 515,689 517,690 518,690 520,690 521,690 523,690 525,690 526,689 527,689 529,688 530,688 531,687 532,686 534,685 535,684 535,683 536,682 537,681 538,680 538,678 539,677 539,675 539,674 539,672 539,671 539,669 539,667 539,666 538,664 538,662 537,661 536,659 536,658 535,656 534,654 533,653 531,651 530,650 529,649" fill="#FAC6AD" stroke="#FAC6AD"/>
<polygon points="590,649 588,647 587,646 585,645 584,644 582,643 581,642 579,641 578,641 576,640 574,639 573,639 571,639 569,639 568,638 566,638 565,639 563,639 562,639 560,639 559,640 558,641 556,641 555,642 554,643 553,644 552,645 551,646 551,648 550,649 549,650 549,652 549,653 548,655 548,656 548,658 548,659 549,661 549,663 549,664 550,666 551,668 551,669 552,671 553,672 554,674 555,676 556,677 557,678 559,680 560,681 561,682 563,683 564,684 566,685 567,686 569,687 571,688 572,688 574,689 576,689 577,690 579,690 581,690 582,690 584,690 585,690 587,689 588,689 589,688 591,688 592,687 593,686 594,685 595,684 596,683 597,682 598,681 598,680 599,678 599,677 600,675 600,674 600,672 600,671 600,669 600,667 599,666 599,664 598,662 598,661 597,659 596,658 595,656 594,654 593,653 592,651 591,650 590,649" fill="#FAC6AD" stroke="#FAC6AD"/>
<polygon points="651,648 649,647 648,646 647,645 645,644 644,643 642,642 640,641 639,640 637,640 635,639 634,639 632,639 631,638 629,638 627,638 626,639 624,639 623,639 621,640 620,640 619,641 617,642 616,642 615,643 614,644 613,646 612,647 612,648 611,649 610,651 610,652 610,654 609,655 609,657 609,658 609,660 609,662 610,663 610,665 610,666 611,668 612,670 612,671 613,673 614,674 615,676 616,677 618,679 619,680 620,681 622,683 623,684 625,685 626,686 628,687 629,687 631,688 633,689 634,689 636,690 638,690 639,690 641,690 642,690 644,690 646,690 647,689 648,689 650,688 651,688 652,687 654,686 655,685 656,684 657,683 657,682 658,680 659,679 659,678 660,676 660,675 660,673 661,672 661,670 661,669 660,667 660,665 660,664 659,662 659,660 658,659 657,657 656,655 655,654 654,652 653,651 652,650 651,648" fill="#FBD1BB" stroke="#FBD1BB"/>
<polygon points="711,649 710,647 708,646 707,645 706,644 704,643 702,642 701,641 699,641 697,640 696,639 694,639 693,639 691,638 689,638 688,638 686,639 685,639 683,639 682,640 680,640 679,641 678,641 677,642 676,643 675,644 674,645 673,646 672,648 671,649 671,650 670,652 670,653 670,655 670,656 670,658 670,660 670,661 670,663 671,664 671,666 672,668 673,669 673,671 674,673 675,674 676,676 677,677 679,679 680,680 681,681 683,682 684,683 686,685 687,686 689,686 690,687 692,688 694,689 695,689 697,689 699,690 700,690 702,690 703,690 705,690 707,690 708,689 709,689 711,688 712,688 713,687 715,686 716,685 717,684 718,683 718,682 719,681 720,679 720,678 721,677 721,675 721,674 721,672 721,671 721,669 721,667 721,666 720,664 720,662 719,661 719,659 718,657 717,656 716,654 715,653 714,651 713,650 711,649" fill="#FAC9B0" stroke="#FAC9B0"/>
<polygon points="780,640 779,639 778,639 777,639 776,638 775,638 774,638 772,639 771,639 770,639 768,640 767,640 765,641 764,642 762,643 760,644 759,645 757,646 756,647 754,648 752,649 751,651 749,652 747,654 746,655 744,657 743,659 742,660 740,662 739,663 738,665 737,667 736,668 735,670 734,672 733,673 732,675 732,676 731,678 731,679 731,680 731,682 731,683 731,684 731,685 731,686 731,687 732,687 732,688 733,689 734,689 735,690 736,690 737,690 738,690 739,690 740,690 742,690 743,689 744,689 746,688 747,687 749,687 751,686 752,685 754,684 755,683 757,682 759,680 760,679 762,678 764,676 765,675 767,673 768,672 770,670 771,668 772,667 774,665 775,663 776,662 777,660 778,658 779,657 780,655 780,654 781,652 781,651 782,649 782,648 782,647 782,646 782,645 782,643 781,642 781,641 780,640" fill="#2D76B4" stroke="#2D76B4"/>
<polyline points="843,638 843,639 842,639 842,640 841,640 840,641 840,642 839,643 838,644 837,645 836,646 834,647 833,648 832,649 830,651 829,652 827,654 826,655 824,657 823,658 821,660 820,662 818,663 816,665 815,667 813,668 811,670 810,672 808,673 807,675 805,676 804,678 802,679 801,680 800,682 798,683 797,684 796,685 795,686 795,687 794,687 793,688 793,689 792,689 792,690 791,690 792,690 792,689 793,689 793,688 794,687 795,687 795,686 796,685 797,684 798,683 800,682 801,680 802,679 804,678 805,676 807,675 808,673 810,672 811,670 813,668 815,667 816,665 818,663 820,662 821,660 823,658 824,657 826,655 827,654 829,652 830,651 832,649 833,648 834,647 836,646 837,645 838,644 839,643 840,642 840,641 841,640 842,640 842,639 843,639 843,638" fill="none" stroke="#053061" stroke-width="2.2"/>
<polygon points="900,642 899,641 898,640 897,640 896,639 895,639 894,639 892,638 891,638 889,638 888,639 886,639 885,639 883,640 882,640 880,641 878,642 877,642 875,643 873,644 872,645 870,647 869,648 867,649 866,651 864,652 863,653 861,655 860,657 859,658 858,660 857,661 856,663 855,665 854,666 854,668 853,670 853,671 852,673 852,674 852,676 852,677 852,679 852,680 852,681 853,683 853,684 854,685 855,686 855,687 856,687 857,688 858,689 859,689 861,689 862,690 863,690 865,690 866,690 868,690 869,690 871,689 872,689 874,688 876,688 877,687 879,686 881,685 882,684 884,683 885,682 887,681 889,679 890,678 891,676 893,675 894,673 895,672 897,670 898,669 899,667 900,665 900,664 901,662 902,660 902,659 903,657 903,656 903,654 904,653 904,651 903,650 903,648 903,647 903,646 902,645 902,644 901,643 900,642" fill="#6BADD1" stroke="#6BADD1"/>
<polygon points="957,646 956,645 955,644 953,643 952,642 950,641 949,640 947,640 946,639 944,639 943,639 941,638 939,638 938,638 936,639 934,639 933,639 931,640 930,640 928,641 927,642 925,643 924,644 922,645 921,646 920,647 919,648 918,649 917,651 916,652 915,654 915,655 914,657 914,658 913,660 913,662 913,663 913,665 913,667 913,668 913,670 914,672 914,673 915,675 915,676 916,678 917,679 918,680 919,682 920,683 921,684 922,685 924,686 925,687 927,687 928,688 930,689 931,689 933,690 934,690 936,690 938,690 939,690 941,690 943,690 944,689 946,689 947,688 949,687 950,687 952,686 953,685 955,684 956,683 957,682 958,680 959,679 960,678 961,676 962,675 962,673 963,672 963,670 964,668 964,667 964,665 964,663 964,662 964,660 964,658 963,657 963,655 962,654 962,652 961,651 960,649 959,648 958,647 957,646" fill="#F7FAFC" stroke="#F7FAFC"/>
<polygon points="1014,649 1013,648 1011,647 1010,646 1008,644 1007,643 1005,642 1004,642 1002,641 1000,640 999,640 997,639 995,639 994,639 992,638 990,638 989,638 987,639 986,639 985,639 983,640 982,640 981,641 980,642 979,643 978,644 977,645 976,646 975,647 975,648 974,650 974,651 974,652 973,654 973,656 973,657 974,659 974,660 974,662 975,664 975,665 976,667 977,669 977,670 978,672 979,673 980,675 982,676 983,678 984,679 986,680 987,682 989,683 990,684 992,685 993,686 995,687 996,688 998,688 1000,689 1001,689 1003,690 1005,690 1006,690 1008,690 1009,690 1011,690 1012,690 1014,689 1015,689 1016,688 1018,687 1019,687 1020,686 1021,685 1022,684 1022,683 1023,681 1024,680 1024,679 1024,677 1025,676 1025,674 1025,673 1025,671 1025,670 1025,668 1024,666 1024,665 1023,663 1023,662 1022,660 1021,658 1020,657 1019,655 1018,654 1017,652 1015,651 1014,649" fill="#F7B99B" stroke="#F7B99B"/>
<polygon points="1080,644 1079,643 1078,642 1076,641 1075,641 1074,640 1072,640 1071,639 1069,639 1068,639 1066,638 1064,638 1063,638 1061,639 1060,639 1058,639 1056,640 1055,640 1053,641 1051,642 1050,643 1048,644 1047,645 1046,646 1044,647 1043,648 1042,650 1041,651 1040,653 1039,654 1038,656 1037,657 1036,659 1036,661 1035,662 1035,664 1034,666 1034,667 1034,669 1034,670 1034,672 1034,674 1035,675 1035,677 1036,678 1036,679 1037,681 1038,682 1039,683 1040,684 1041,685 1042,686 1043,687 1045,688 1046,688 1048,689 1049,689 1051,690 1052,690 1054,690 1055,690 1057,690 1059,690 1060,689 1062,689 1064,689 1065,688 1067,687 1068,686 1070,686 1071,685 1073,684 1074,682 1076,681 1077,680 1078,679 1079,677 1080,676 1081,674 1082,673 1083,671 1084,669 1084,668 1085,666 1085,665 1085,663 1086,661 1086,660 1086,658 1086,656 1085,655 1085,653 1085,652 1084,650 1083,649 1083,648 1082,647 1081,645 1080,644" fill="#D2E6F0" stroke="#D2E6F0"/>
<polygon points="469,709 468,707 466,706 465,705 463,704 462,703 460,702 459,702 457,701 456,700 454,700 452,700 451,699 449,699 447,699 446,699 444,699 443,700 441,700 440,701 438,701 437,702 436,703 434,704 433,704 432,706 431,707 430,708 430,709 429,710 428,712 428,713 427,715 427,716 427,718 427,720 427,721 427,723 427,724 428,726 428,728 429,729 429,731 430,733 431,734 432,736 433,737 434,739 435,740 436,741 438,743 439,744 440,745 442,746 443,747 445,748 447,748 448,749 450,750 452,750 453,750 455,751 456,751 458,751 460,751 461,751 463,750 464,750 466,749 467,749 469,748 470,747 471,746 472,745 473,744 474,743 475,742 476,741 476,739 477,738 478,737 478,735 478,734 478,732 479,730 478,729 478,727 478,725 478,724 477,722 477,720 476,719 475,717 475,716 474,714 473,713 471,711 470,710 469,709" fill="#FDDCC8" stroke="#FDDCC8"/>
<polygon points="530,708 529,707 528,706 526,705 525,704 523,703 522,702 520,701 519,701 517,700 515,700 514,699 512,699 511,699 509,699 507,699 506,700 504,700 503,700 501,701 500,702 498,702 497,703 496,704 495,705 494,706 492,707 492,709 491,710 490,711 489,713 489,714 488,716 488,717 488,719 488,720 488,722 488,724 488,725 488,727 489,729 489,730 490,732 490,733 491,735 492,737 493,738 494,739 495,741 496,742 498,743 499,744 500,745 502,746 503,747 505,748 506,749 508,749 510,750 511,750 513,750 515,751 516,751 518,751 520,751 521,750 523,750 524,750 526,749 527,748 529,748 530,747 531,746 532,745 533,744 534,743 535,741 536,740 537,739 538,737 538,736 538,734 539,733 539,731 539,729 539,728 539,726 539,725 539,723 538,721 538,720 537,718 536,716 536,715 535,713 534,712 533,711 532,709 530,708" fill="#FEE8DC" stroke="#FEE8DC"/>
<polygon points="591,708 589,707 588,706 587,705 585,704 584,703 582,702 580,701 579,701 577,700 575,700 574,700 572,699 571,699 569,699 567,699 566,699 564,700 563,700 561,701 560,701 558,702 557,703 556,704 555,705 554,706 553,707 552,708 551,709 550,711 550,712 549,713 549,715 549,716 548,718 548,720 548,721 548,723 549,725 549,726 550,728 550,730 551,731 551,733 552,734 553,736 554,737 555,739 556,740 558,741 559,743 560,744 562,745 563,746 565,747 566,748 568,748 570,749 571,750 573,750 574,750 576,751 578,751 579,751 581,751 583,750 584,750 586,750 587,749 589,749 590,748 591,747 592,746 593,745 595,744 596,743 596,742 597,741 598,739 598,738 599,736 599,735 600,733 600,732 600,730 600,729 600,727 600,725 599,724 599,722 598,720 598,719 597,717 596,716 595,714 594,713 593,711 592,710 591,708" fill="#FDDECB" stroke="#FDDECB"/>
<polygon points="650,709 649,708 648,707 646,706 645,705 643,704 642,703 640,702 638,701 637,701 635,700 633,700 632,699 630,699 629,699 627,699 625,699 624,700 622,700 621,700 620,701 618,701 617,702 616,703 615,704 614,705 613,706 612,707 611,708 611,710 610,711 610,712 609,714 609,715 609,717 609,719 609,720 609,722 610,724 610,725 611,727 611,728 612,730 613,732 614,733 615,735 616,736 617,738 618,739 619,741 621,742 622,743 623,744 625,745 627,746 628,747 630,748 631,749 633,749 635,750 636,750 638,750 640,751 641,751 643,751 644,751 646,750 647,750 649,750 650,749 651,748 653,748 654,747 655,746 656,745 657,744 658,743 658,742 659,740 660,739 660,737 660,736 661,734 661,733 661,731 661,730 660,728 660,726 660,725 659,723 659,721 658,720 657,718 656,717 655,715 654,714 653,712 652,711 650,709" fill="#FAC9B0" stroke="#FAC9B0"/>
<polygon points="710,710 709,709 707,708 706,707 704,705 703,704 701,703 700,703 698,702 696,701 695,701 693,700 691,700 690,699 688,699 686,699 685,699 683,699 682,700 681,700 679,700 678,701 677,702 676,702 675,703 674,704 673,705 672,706 672,707 671,709 671,710 670,711 670,713 670,714 670,716 670,717 670,719 670,721 671,722 671,724 672,726 672,727 673,729 674,731 675,732 676,734 677,735 678,737 680,738 681,740 682,741 684,742 685,743 687,744 688,746 690,746 692,747 693,748 695,749 697,749 698,750 700,750 702,751 703,751 705,751 706,751 708,751 709,750 711,750 712,750 713,749 714,748 715,748 716,747 717,746 718,745 719,744 720,742 720,741 721,740 721,738 721,737 721,736 721,734 721,732 721,731 721,729 721,728 720,726 719,724 719,723 718,721 717,719 716,718 715,716 714,715 713,713 712,712 710,710" fill="#F6B191" stroke="#F6B191"/>
<polygon points="778,703 777,702 776,702 775,701 774,700 772,700 771,700 770,699 768,699 767,699 765,699 764,699 762,700 760,700 759,700 757,701 755,702 754,702 752,703 751,704 749,705 747,706 746,708 744,709 743,710 742,712 740,713 739,714 738,716 737,718 736,719 735,721 734,722 733,724 732,726 732,727 731,729 731,731 731,732 731,734 731,735 731,737 731,738 731,740 731,741 732,742 732,743 733,745 734,746 735,747 736,747 737,748 738,749 739,749 740,750 742,750 743,751 744,751 746,751 747,751 749,751 751,750 752,750 754,749 756,749 757,748 759,747 760,747 762,746 764,745 765,744 767,742 768,741 770,740 771,738 772,737 774,735 775,734 776,732 777,731 778,729 779,727 780,726 780,724 781,722 781,721 782,719 782,718 782,716 782,715 782,713 782,712 782,710 781,709 781,708 780,706 780,705 779,704 778,703" fill="#8FC3DD" stroke="#8FC3DD"/>
<polygon points="839,703 838,702 838,701 836,701 835,700 834,700 833,699 832,699 830,699 829,699 827,699 826,700 824,700 822,700 821,701 819,702 818,702 816,703 814,704 813,705 811,706 809,707 808,709 806,710 805,711 803,713 802,714 801,716 799,717 798,719 797,720 796,722 795,724 794,725 794,727 793,729 792,730 792,732 792,734 791,735 791,737 791,738 791,739 791,741 792,742 792,743 793,744 793,745 794,746 795,747 796,748 797,749 798,749 799,750 800,750 801,751 803,751 804,751 805,751 807,751 808,750 810,750 812,750 813,749 815,748 817,748 818,747 820,746 821,745 823,744 825,743 826,741 828,740 829,739 831,737 832,736 833,734 835,733 836,731 837,729 838,728 839,726 840,724 840,723 841,721 842,720 842,718 842,716 843,715 843,713 843,712 843,710 843,709 842,708 842,707 841,706 841,704 840,704 839,703" fill="#6BADD1" stroke="#6BADD1"/>
<polyline points="904,699 903,699 903,700 902,700 902,701 901,702 900,702 899,703 898,704 897,705 896,706 895,708 894,709 893,710 891,712 890,713 888,715 887,716 885,718 883,719 882,721 880,722 879,724 877,726 875,727 874,729 872,731 870,732 869,734 867,735 866,737 864,738 863,740 862,741 860,742 859,743 858,745 857,746 856,747 855,747 854,748 854,749 853,749 853,750 852,750 852,751 852,750 853,750 853,749 854,749 854,748 855,747 856,747 857,746 858,745 859,743 860,742 862,741 863,740 864,738 866,737 867,735 869,734 870,732 872,731 874,729 875,727 877,726 879,724 880,722 882,721 883,719 885,718 887,716 888,715 890,713 891,712 893,710 894,709 895,708 896,706 897,705 898,704 899,703 900,702 901,702 902,701 902,700 903,700 903,699 904,699" fill="none" stroke="#053061" stroke-width="2.2"/>
<polygon points="961,702 960,701 959,701 958,700 957,700 956,700 955,699 954,699 952,699 951,699 949,699 948,700 946,700 945,701 943,701 941,702 940,703 938,704 937,705 935,706 933,707 932,708 930,709 929,711 927,712 926,713 924,715 923,717 922,718 920,720 919,721 918,723 917,725 916,726 915,728 915,730 914,731 914,733 913,734 913,736 913,737 913,739 913,740 913,741 913,743 913,744 914,745 914,746 915,747 916,748 917,748 917,749 918,750 920,750 921,750 922,751 923,751 925,751 926,751 928,750 929,750 931,750 932,749 934,749 935,748 937,747 939,746 940,745 942,744 944,743 945,742 947,741 948,739 950,738 951,736 953,735 954,733 955,732 957,730 958,729 959,727 960,725 961,724 961,722 962,720 963,719 963,717 964,716 964,714 964,713 964,711 964,710 964,708 964,707 964,706 963,705 963,704 962,703 961,702" fill="#549EC9" stroke="#549EC9"/>
<polygon points="1016,708 1015,707 1014,705 1012,704 1011,703 1009,703 1008,702 1006,701 1005,701 1003,700 1001,700 1000,699 998,699 997,699 995,699 993,699 992,700 990,700 989,700 987,701 986,702 984,702 983,703 982,704 981,705 979,706 978,707 977,709 977,710 976,711 975,713 975,714 974,716 974,717 974,719 973,721 973,722 973,724 974,726 974,727 974,729 975,730 975,732 976,734 977,735 978,737 979,738 980,740 981,741 982,742 983,743 985,744 986,746 987,746 989,747 990,748 992,749 994,749 995,750 997,750 999,751 1000,751 1002,751 1004,751 1005,751 1007,750 1008,750 1010,750 1011,749 1013,748 1014,748 1015,747 1017,746 1018,745 1019,744 1020,742 1021,741 1022,740 1023,739 1023,737 1024,736 1024,734 1025,732 1025,731 1025,729 1025,728 1025,726 1025,724 1024,723 1024,721 1024,719 1023,718 1022,716 1022,715 1021,713 1020,712 1019,710 1018,709 1016,708" fill="#FEEADF" stroke="#FEEADF"/>
<polygon points="1079,705 1078,704 1077,703 1076,703 1074,702 1073,701 1072,701 1070,700 1069,700 1067,699 1065,699 1064,699 1062,699 1061,699 1059,700 1057,700 1056,700 1054,701 1052,702 1051,702 1049,703 1048,704 1046,705 1045,706 1044,707 1042,709 1041,710 1040,711 1039,713 1038,714 1037,716 1037,717 1036,719 1035,721 1035,722 1035,724 1034,726 1034,727 1034,729 1034,730 1034,732 1035,734 1035,735 1035,737 1036,738 1037,740 1038,741 1038,742 1039,743 1040,744 1042,746 1043,746 1044,747 1045,748 1047,749 1048,749 1050,750 1051,750 1053,751 1054,751 1056,751 1058,751 1059,751 1061,750 1063,750 1064,750 1066,749 1067,748 1069,748 1071,747 1072,746 1073,745 1075,744 1076,742 1077,741 1079,740 1080,739 1081,737 1082,736 1083,734 1083,733 1084,731 1084,729 1085,728 1085,726 1086,724 1086,723 1086,721 1086,719 1085,718 1085,716 1085,715 1084,713 1084,712 1083,710 1082,709 1081,708 1080,707 1079,705" fill="#DDECF4" stroke="#DDECF4"/>
<polygon points="473,765 472,764 471,763 470,763 469,762 467,761 466,761 464,760 463,760 461,760 460,760 458,760 457,760 455,760 453,761 452,761 450,762 448,762 447,763 445,764 444,765 442,766 441,767 439,768 438,769 436,771 435,772 434,774 433,775 432,777 431,778 430,780 429,781 429,783 428,785 428,786 427,788 427,790 427,791 427,793 427,794 427,796 427,797 428,799 428,800 429,802 430,803 430,804 431,805 432,806 433,807 434,808 435,809 437,810 438,810 439,811 441,811 442,811 444,811 446,812 447,811 449,811 450,811 452,811 454,810 455,810 457,809 459,808 460,807 462,806 463,805 465,804 466,803 468,802 469,801 470,799 471,798 472,796 473,795 474,793 475,792 476,790 477,788 477,787 478,785 478,783 478,782 478,780 479,779 478,777 478,775 478,774 478,772 477,771 477,770 476,768 475,767 474,766 473,765" fill="#B9D9E9" stroke="#B9D9E9"/>
<polygon points="535,764 534,763 533,763 532,762 530,761 529,761 528,760 526,760 525,760 523,760 522,760 520,760 519,760 517,761 515,761 514,762 512,762 510,763 509,764 507,765 506,766 504,767 502,768 501,769 500,770 498,772 497,773 496,775 494,776 493,778 492,779 491,781 491,783 490,784 489,786 489,788 488,789 488,791 488,792 488,794 488,796 488,797 488,799 488,800 489,801 489,803 490,804 490,805 491,806 492,807 493,808 494,809 495,809 497,810 498,811 499,811 501,811 502,811 504,811 505,811 507,811 508,811 510,811 512,810 513,810 515,809 516,808 518,808 520,807 521,806 523,805 524,803 526,802 527,801 529,800 530,798 531,797 532,795 533,794 534,792 535,790 536,789 537,787 538,785 538,784 539,782 539,781 539,779 539,777 539,776 539,774 539,773 539,771 538,770 538,769 537,768 536,766 536,765 535,764" fill="#9CCAE1" stroke="#9CCAE1"/>
<polygon points="595,765 594,764 592,763 591,763 590,762 589,761 587,761 586,760 584,760 583,760 581,760 580,760 578,760 576,760 575,761 573,761 571,762 570,762 568,763 566,764 565,765 563,766 562,767 560,768 559,769 558,771 557,772 555,773 554,775 553,776 552,778 552,780 551,781 550,783 550,785 549,786 549,788 549,789 548,791 548,793 548,794 549,796 549,797 549,799 550,800 550,802 551,803 552,804 553,805 554,806 555,807 556,808 557,809 558,809 560,810 561,811 563,811 564,811 566,811 567,812 569,811 570,811 572,811 574,811 575,810 577,810 579,809 580,808 582,808 583,807 585,806 586,804 588,803 589,802 591,801 592,799 593,798 594,796 595,795 596,793 597,792 598,790 598,789 599,787 599,785 600,784 600,782 600,780 600,779 600,777 600,776 599,774 599,773 599,771 598,770 597,769 596,767 596,766 595,765" fill="#BFDCEB" stroke="#BFDCEB"/>
<polygon points="653,767 652,766 651,765 649,764 648,763 647,763 645,762 644,761 642,761 640,760 639,760 637,760 635,760 634,760 632,760 630,760 629,761 627,761 626,762 624,762 623,763 621,764 620,765 619,766 617,767 616,768 615,769 614,771 613,772 612,774 612,775 611,777 610,778 610,780 609,781 609,783 609,785 609,786 609,788 609,790 610,791 610,793 610,794 611,796 612,797 613,799 613,800 614,802 615,803 617,804 618,805 619,806 620,807 622,808 623,809 625,810 626,810 628,811 629,811 631,811 633,811 634,812 636,811 638,811 639,811 641,811 642,810 644,810 646,809 647,808 648,807 650,807 651,806 652,804 654,803 655,802 656,801 657,799 657,798 658,796 659,795 659,793 660,792 660,790 660,788 661,787 661,785 661,783 660,782 660,780 660,779 659,777 659,775 658,774 657,773 656,771 655,770 654,769 653,767" fill="#FCFDFE" stroke="#FCFDFE"/>
<polygon points="706,775 704,774 703,773 701,771 699,770 698,769 696,767 695,766 693,765 691,764 690,763 688,763 686,762 685,761 683,761 682,760 681,760 679,760 678,760 677,760 676,760 675,760 674,761 673,761 672,762 671,763 671,764 670,765 670,766 670,767 670,768 670,769 670,771 670,772 671,774 671,775 672,777 672,778 673,780 674,781 675,783 676,785 677,786 678,788 680,790 681,791 682,793 684,794 685,796 687,797 688,799 690,800 692,802 693,803 695,804 697,805 698,806 700,807 702,808 703,809 705,810 706,810 708,811 709,811 711,811 712,811 713,812 714,811 715,811 716,811 717,811 718,810 719,810 720,809 720,808 721,807 721,806 721,804 721,803 721,802 721,801 721,799 720,798 720,796 719,795 719,793 718,792 717,790 716,788 715,787 714,785 713,783 711,782 710,780 709,779 707,777 706,775" fill="#C6403E" stroke="#C6403E"/>
<polygon points="775,767 774,766 772,765 771,764 770,763 768,762 767,762 765,761 764,761 762,760 760,760 759,760 757,760 755,760 754,760 752,760 750,761 749,761 747,762 746,762 744,763 743,764 741,765 740,766 739,767 738,768 737,770 736,771 735,772 734,774 733,775 732,777 732,778 731,780 731,781 731,783 731,785 731,786 731,788 731,790 731,791 731,793 732,795 732,796 733,798 734,799 735,800 736,802 737,803 738,804 739,805 740,806 742,807 743,808 744,809 746,810 747,810 749,811 751,811 752,811 754,811 756,812 757,811 759,811 761,811 762,811 764,810 765,810 767,809 768,808 770,807 771,806 772,805 774,804 775,803 776,802 777,801 778,799 779,798 780,796 780,795 781,793 781,792 782,790 782,788 782,787 782,785 782,783 782,782 782,780 781,778 781,777 780,775 780,774 779,772 778,771 777,770 776,768 775,767" fill="#F9FCFD" stroke="#F9FCFD"/>
<polygon points="836,767 834,766 833,765 832,764 830,763 829,762 827,762 826,761 824,761 823,760 821,760 820,760 818,760 816,760 815,760 813,760 811,761 810,761 808,762 807,762 805,763 804,764 802,765 801,766 800,767 798,768 797,770 796,771 795,772 795,774 794,775 793,777 793,778 792,780 792,782 791,783 791,785 791,787 791,788 791,790 792,791 792,793 793,795 793,796 794,798 795,799 795,800 796,802 797,803 798,804 800,805 801,806 802,807 804,808 805,809 807,810 808,810 810,811 811,811 813,811 815,811 816,812 818,811 820,811 821,811 823,811 824,810 826,810 827,809 829,808 830,807 832,806 833,805 834,804 836,803 837,802 838,800 839,799 840,798 840,796 841,795 842,793 842,791 842,790 843,788 843,787 843,785 843,783 843,782 842,780 842,778 842,777 841,775 840,774 840,772 839,771 838,770 837,768 836,767" fill="#F7FAFC" stroke="#F7FAFC"/>
<polygon points="900,763 900,762 899,762 898,761 897,761 895,760 894,760 893,760 892,760 890,760 889,760 887,760 886,761 884,761 882,762 881,763 879,763 877,764 876,765 874,766 873,768 871,769 869,770 868,771 866,773 865,774 863,776 862,777 861,779 860,780 858,782 857,784 856,785 856,787 855,789 854,790 853,792 853,794 853,795 852,797 852,798 852,800 852,801 852,802 852,803 853,805 853,806 854,807 854,808 855,808 856,809 857,810 858,810 859,811 860,811 861,811 863,811 864,811 865,811 867,811 868,811 870,811 872,810 873,809 875,809 876,808 878,807 880,806 881,805 883,804 885,803 886,801 888,800 889,799 891,797 892,796 893,794 895,793 896,791 897,789 898,788 899,786 900,784 901,783 901,781 902,779 903,778 903,776 903,775 903,773 904,772 904,770 903,769 903,768 903,767 902,766 902,765 901,764 900,763" fill="#549EC9" stroke="#549EC9"/>
<polyline points="964,760 963,761 962,762 961,763 960,764 959,765 958,766 957,767 956,768 955,770 953,771 952,772 950,774 949,775 947,777 946,778 944,780 943,782 941,783 939,785 938,787 936,788 934,790 933,791 931,793 930,795 928,796 927,798 925,799 924,800 922,802 921,803 920,804 919,805 918,806 917,807 916,808 915,809 915,810 914,810 914,811 913,811 913,812 913,811 914,811 914,810 915,810 915,809 916,808 917,807 918,806 919,805 920,804 921,803 922,802 924,800 925,799 927,798 928,796 930,795 931,793 933,791 934,790 936,788 938,787 939,785 941,783 943,782 944,780 946,778 947,777 949,775 950,774 952,772 953,771 955,770 956,768 957,767 958,766 959,765 960,764 961,763 962,762 963,761 964,760" fill="none" stroke="#053061" stroke-width="2.2"/>
<polygon points="1021,764 1020,763 1019,762 1018,761 1017,761 1016,761 1015,760 1013,760 1012,760 1010,760 1009,760 1007,760 1006,761 1004,761 1002,761 1001,762 999,763 997,764 996,764 994,765 993,767 991,768 989,769 988,770 986,772 985,773 984,774 982,776 981,778 980,779 979,781 978,782 977,784 976,786 976,787 975,789 974,791 974,792 974,794 973,795 973,797 973,798 974,800 974,801 974,802 974,804 975,805 976,806 976,807 977,808 978,809 979,809 980,810 981,810 983,811 984,811 985,811 987,811 988,811 990,811 991,811 993,811 994,810 996,810 998,809 999,809 1001,808 1003,807 1004,806 1006,805 1007,804 1009,802 1010,801 1012,800 1013,798 1015,797 1016,795 1017,794 1018,792 1019,791 1020,789 1021,787 1022,786 1023,784 1023,782 1024,781 1024,779 1025,778 1025,776 1025,775 1025,773 1025,772 1025,770 1024,769 1024,768 1023,767 1023,766 1022,765 1021,764" fill="#7BB7D6" stroke="#7BB7D6"/>
<polygon points="1079,767 1078,766 1077,765 1075,764 1074,763 1073,762 1071,761 1070,761 1068,761 1066,760 1065,760 1063,760 1062,760 1060,760 1058,760 1057,761 1055,761 1053,761 1052,762 1050,763 1049,764 1047,765 1046,766 1044,767 1043,768 1042,769 1041,770 1040,772 1039,773 1038,774 1037,776 1036,778 1036,779 1035,781 1035,782 1034,784 1034,786 1034,787 1034,789 1034,791 1034,792 1035,794 1035,795 1036,797 1036,798 1037,800 1038,801 1039,802 1040,804 1041,805 1042,806 1043,807 1044,808 1046,809 1047,809 1049,810 1050,810 1052,811 1053,811 1055,811 1057,811 1058,811 1060,811 1062,811 1063,811 1065,810 1066,810 1068,809 1070,809 1071,808 1073,807 1074,806 1075,805 1077,804 1078,802 1079,801 1080,800 1081,798 1082,797 1083,795 1084,794 1084,792 1085,791 1085,789 1085,787 1086,786 1086,784 1086,782 1086,781 1085,779 1085,778 1085,776 1084,774 1084,773 1083,772 1082,770 1081,769 1080,768 1079,767" fill="#E9F3F8" stroke="#E9F3F8"/>
<polygon points="473,826 472,825 471,824 469,824 468,823 467,822 465,822 464,821 462,821 461,821 459,821 458,821 456,821 454,821 453,821 451,822 449,822 448,823 446,824 445,824 443,825 441,826 440,827 439,828 437,830 436,831 435,832 434,834 433,835 432,837 431,838 430,840 429,841 428,843 428,845 428,846 427,848 427,850 427,851 427,853 427,855 427,856 428,858 428,859 429,860 429,862 430,863 431,864 432,866 433,867 434,868 435,868 436,869 437,870 439,871 440,871 442,872 443,872 445,872 446,872 448,872 449,872 451,872 453,872 454,871 456,871 458,870 459,869 461,869 462,868 464,867 465,866 467,864 468,863 469,862 471,861 472,859 473,858 474,856 475,855 476,853 476,851 477,850 477,848 478,846 478,845 478,843 479,842 479,840 478,838 478,837 478,835 477,834 477,832 476,831 476,830 475,829 474,827 473,826" fill="#CCE2EF" stroke="#CCE2EF"/>
<polygon points="534,826 533,825 532,824 531,823 530,822 528,822 527,821 526,821 524,821 523,821 521,821 519,821 518,821 516,821 514,822 513,822 511,823 509,823 508,824 506,825 505,826 503,827 502,828 500,829 499,830 497,832 496,833 495,835 494,836 493,838 492,839 491,841 490,842 490,844 489,846 489,847 488,849 488,851 488,852 488,854 488,856 488,857 488,859 488,860 489,861 489,863 490,864 491,865 492,866 493,867 494,868 495,869 496,870 497,870 499,871 500,871 501,872 503,872 504,872 506,872 508,872 509,872 511,872 512,871 514,871 516,870 517,870 519,869 521,868 522,867 524,866 525,865 527,864 528,862 529,861 531,860 532,858 533,857 534,855 535,854 536,852 537,850 537,849 538,847 538,845 539,844 539,842 539,841 539,839 539,837 539,836 539,834 538,833 538,832 537,830 537,829 536,828 535,827 534,826" fill="#B3D6E7" stroke="#B3D6E7"/>
<polygon points="595,826 594,825 593,824 592,823 590,822 589,822 588,821 586,821 585,821 583,821 582,821 580,821 578,821 577,821 575,822 574,822 572,823 570,823 569,824 567,825 565,826 564,827 562,828 561,829 560,830 558,832 557,833 556,835 555,836 554,838 553,839 552,841 551,843 550,844 550,846 549,847 549,849 549,851 548,852 548,854 548,856 549,857 549,859 549,860 550,861 550,863 551,864 552,865 552,866 553,867 554,868 555,869 557,870 558,870 559,871 561,871 562,872 564,872 565,872 567,872 568,872 570,872 571,872 573,871 575,871 576,870 578,870 580,869 581,868 583,867 584,866 586,865 587,864 589,862 590,861 591,860 593,858 594,857 595,855 596,854 597,852 597,850 598,849 599,847 599,845 599,844 600,842 600,840 600,839 600,837 600,836 600,834 599,833 599,831 598,830 597,829 597,828 596,827 595,826" fill="#B3D6E7" stroke="#B3D6E7"/>
<polygon points="651,831 649,829 648,828 646,827 645,826 643,825 642,824 640,823 639,823 637,822 635,822 634,821 632,821 630,821 629,821 627,821 626,821 624,821 623,821 621,822 620,822 618,823 617,824 616,825 615,826 614,827 613,828 612,829 611,830 611,831 610,833 610,834 609,836 609,837 609,839 609,840 609,842 609,844 610,845 610,847 611,849 611,850 612,852 613,853 613,855 614,857 615,858 617,859 618,861 619,862 620,863 622,865 623,866 625,867 626,868 628,869 630,870 631,870 633,871 634,871 636,872 638,872 639,872 641,872 643,872 644,872 646,872 647,871 649,871 650,871 651,870 653,869 654,868 655,867 656,866 657,865 658,864 658,863 659,862 659,860 660,859 660,857 661,856 661,854 661,853 661,851 660,849 660,848 660,846 659,844 659,843 658,841 657,839 656,838 655,836 654,835 653,833 652,832 651,831" fill="#FACCB4" stroke="#FACCB4"/>
<polygon points="713,829 712,828 710,827 709,826 708,825 706,824 705,823 703,822 701,822 700,821 698,821 696,821 695,821 693,821 691,821 690,821 688,821 687,821 685,822 684,823 682,823 681,824 680,825 678,826 677,827 676,828 675,829 674,830 673,832 672,833 672,834 671,836 671,838 670,839 670,841 670,842 670,844 670,846 670,847 670,849 671,851 671,852 672,854 672,855 673,857 674,858 675,860 676,861 677,863 678,864 679,865 681,866 682,867 684,868 685,869 687,870 688,870 690,871 691,871 693,872 695,872 696,872 698,872 700,872 701,872 703,872 704,871 706,871 708,870 709,870 710,869 712,868 713,867 714,866 715,865 716,864 717,863 718,861 719,860 720,858 720,857 721,855 721,854 721,852 721,851 721,849 721,847 721,846 721,844 721,842 720,841 720,839 719,838 718,836 717,834 716,833 715,832 714,830 713,829" fill="#FEEEE4" stroke="#FEEEE4"/>
<polygon points="772,831 770,830 769,828 768,827 766,826 764,825 763,824 761,824 760,823 758,822 756,822 755,821 753,821 751,821 750,821 748,821 747,821 745,821 744,821 742,822 741,822 740,823 738,824 737,824 736,825 735,826 734,827 733,828 733,830 732,831 732,832 731,834 731,835 731,837 731,838 731,840 731,842 731,843 731,845 732,846 732,848 733,850 733,851 734,853 735,855 736,856 737,858 738,859 740,861 741,862 742,863 744,864 745,866 747,867 748,868 750,869 751,869 753,870 755,871 756,871 758,872 760,872 761,872 763,872 764,872 766,872 767,872 769,872 770,871 772,871 773,870 774,869 775,868 776,868 777,867 778,866 779,864 780,863 781,862 781,860 781,859 782,858 782,856 782,855 782,853 782,851 782,850 781,848 781,846 781,845 780,843 779,841 778,840 777,838 777,837 775,835 774,834 773,832 772,831" fill="#F9C4A9" stroke="#F9C4A9"/>
<polygon points="832,831 831,830 829,829 828,828 826,827 825,826 823,825 821,824 820,823 818,822 816,822 815,821 813,821 812,821 810,821 808,821 807,821 805,821 804,821 802,822 801,822 800,823 799,823 798,824 796,825 796,826 795,827 794,828 793,829 793,831 792,832 792,833 791,835 791,836 791,838 791,839 791,841 792,843 792,844 792,846 793,847 794,849 794,851 795,852 796,854 797,856 798,857 800,859 801,860 802,861 803,863 805,864 806,865 808,866 809,867 811,868 813,869 814,870 816,870 818,871 819,871 821,872 823,872 824,872 826,872 827,872 829,872 830,872 832,871 833,871 834,870 835,870 837,869 838,868 839,867 839,866 840,865 841,864 841,862 842,861 842,860 843,858 843,857 843,855 843,854 843,852 842,850 842,849 842,847 841,845 840,844 840,842 839,840 838,839 837,837 836,836 835,834 833,833 832,831" fill="#F7B99B" stroke="#F7B99B"/>
<polygon points="895,829 894,828 892,827 891,826 890,825 888,824 886,823 885,823 883,822 882,822 880,821 878,821 877,821 875,821 873,821 872,821 870,821 869,821 867,822 866,822 864,823 863,824 861,825 860,826 859,827 858,828 857,829 856,830 855,831 854,833 854,834 853,836 853,837 852,839 852,840 852,842 852,844 852,845 852,847 852,849 853,850 853,852 854,854 855,855 855,857 856,858 857,860 858,861 859,862 861,864 862,865 863,866 865,867 866,868 867,869 869,870 871,870 872,871 874,871 875,872 877,872 879,872 880,872 882,872 884,872 885,872 887,871 888,871 890,870 891,870 893,869 894,868 895,867 896,866 898,865 899,864 899,863 900,861 901,860 902,859 902,857 903,856 903,854 903,852 904,851 904,849 903,847 903,846 903,844 903,843 902,841 902,839 901,838 900,836 899,835 898,833 897,832 896,830 895,829" fill="#FEEADF" stroke="#FEEADF"/>
<polygon points="961,824 960,824 959,823 958,822 956,822 955,821 954,821 953,821 951,821 950,821 948,821 947,821 945,821 943,822 942,822 940,823 938,824 937,824 935,825 933,826 932,827 930,828 929,830 927,831 926,832 924,834 923,835 922,837 920,838 919,840 918,841 917,843 916,845 916,846 915,848 914,850 914,851 913,853 913,855 913,856 913,858 913,859 913,860 913,862 913,863 914,864 914,866 915,867 916,868 917,869 918,870 919,871 921,871 922,872 923,872 924,872 926,872 927,872 929,872 930,872 932,872 934,871 935,871 937,870 939,869 940,869 942,868 943,867 945,866 947,864 948,863 950,862 951,861 953,859 954,858 955,856 956,855 958,853 959,851 960,850 961,848 961,846 962,845 963,843 963,842 964,840 964,838 964,837 964,835 964,834 964,832 964,831 964,830 963,829 963,827 962,826 961,825 961,824" fill="#7BB7D6" stroke="#7BB7D6"/>
<polyline points="1025,821 1024,821 1024,822 1023,823 1022,823 1022,824 1021,825 1020,826 1019,827 1018,828 1017,829 1015,830 1014,832 1013,833 1011,834 1010,836 1008,838 1007,839 1005,841 1003,842 1002,844 1000,846 998,847 997,849 995,851 993,852 992,854 990,855 989,857 987,858 986,860 984,861 983,863 982,864 981,865 980,866 979,867 978,868 977,869 976,870 975,870 975,871 974,871 974,872 973,872 974,872 974,871 975,871 975,870 976,870 977,869 978,868 979,867 980,866 981,865 982,864 983,863 984,861 986,860 987,858 989,857 990,855 992,854 993,852 995,851 997,849 998,847 1000,846 1002,844 1003,842 1005,841 1007,839 1008,838 1010,836 1011,834 1013,833 1014,832 1015,830 1017,829 1018,828 1019,827 1020,826 1021,825 1022,824 1022,823 1023,823 1024,822 1024,821 1025,821" fill="none" stroke="#053061" stroke-width="2.2"/>
<polygon points="1081,825 1080,825 1079,824 1078,823 1076,822 1075,822 1074,821 1072,821 1071,821 1069,821 1068,821 1066,821 1065,821 1063,821 1061,822 1060,822 1058,823 1056,823 1055,824 1053,825 1052,826 1050,827 1048,828 1047,829 1046,831 1044,832 1043,834 1042,835 1041,836 1040,838 1039,840 1038,841 1037,843 1036,844 1036,846 1035,848 1035,849 1034,851 1034,853 1034,854 1034,856 1034,857 1034,859 1035,860 1035,862 1036,863 1036,864 1037,865 1038,866 1039,867 1040,868 1041,869 1042,870 1043,871 1045,871 1046,872 1047,872 1049,872 1050,872 1052,872 1054,872 1055,872 1057,872 1059,871 1060,871 1062,870 1063,869 1065,869 1067,868 1068,867 1070,866 1071,865 1073,863 1074,862 1076,861 1077,859 1078,858 1079,856 1080,855 1081,853 1082,852 1083,850 1084,848 1084,847 1085,845 1085,843 1085,842 1086,840 1086,839 1086,837 1086,835 1085,834 1085,833 1085,831 1084,830 1083,829 1083,828 1082,826 1081,825" fill="#A9D1E5" stroke="#A9D1E5"/>
<polygon points="467,893 466,891 464,890 463,889 461,888 460,887 458,886 456,885 455,884 453,883 451,883 450,882 448,882 447,882 445,881 443,881 442,881 440,882 439,882 438,882 436,883 435,883 434,884 433,884 432,885 431,886 430,887 429,888 429,889 428,891 428,892 427,893 427,895 427,896 427,898 427,899 427,901 427,903 428,904 428,906 429,908 430,909 430,911 431,912 432,914 433,916 434,917 436,919 437,920 438,922 440,923 441,924 443,925 444,927 446,928 447,929 449,929 451,930 452,931 454,932 456,932 457,932 459,933 460,933 462,933 464,933 465,933 466,933 468,932 469,932 470,931 472,931 473,930 474,929 475,928 475,927 476,926 477,925 477,924 478,922 478,921 478,920 478,918 479,917 478,915 478,913 478,912 478,910 477,908 476,907 476,905 475,903 474,902 473,900 472,899 471,897 470,896 468,894 467,893" fill="#F5AB8A" stroke="#F5AB8A"/>
<polygon points="532,889 531,887 530,886 528,885 527,885 525,884 524,883 522,883 521,882 519,882 518,882 516,881 514,881 513,881 511,882 509,882 508,882 506,883 505,883 503,884 502,885 500,886 499,887 497,888 496,889 495,890 494,891 493,892 492,894 491,895 490,897 490,898 489,900 488,902 488,903 488,905 488,906 488,908 488,910 488,911 488,913 488,915 489,916 489,918 490,919 491,921 492,922 493,923 494,925 495,926 496,927 497,928 499,929 500,930 501,930 503,931 504,932 506,932 508,933 509,933 511,933 513,933 514,933 516,933 517,932 519,932 521,932 522,931 524,930 525,930 527,929 528,928 529,927 531,926 532,924 533,923 534,922 535,920 536,919 537,918 537,916 538,914 538,913 539,911 539,910 539,908 539,906 539,905 539,903 539,901 538,900 538,898 537,897 537,895 536,894 535,892 534,891 533,890 532,889" fill="#F7FAFC" stroke="#F7FAFC"/>
<polygon points="593,888 592,887 590,886 589,885 588,885 586,884 585,883 583,883 582,882 580,882 579,882 577,881 575,881 574,881 572,882 570,882 569,882 567,883 566,883 564,884 562,885 561,886 560,887 558,888 557,889 556,890 555,891 554,893 553,894 552,896 551,897 550,899 550,900 549,902 549,903 549,905 548,907 548,908 548,910 549,912 549,913 549,915 550,916 550,918 551,919 552,921 552,922 553,924 554,925 555,926 557,927 558,928 559,929 561,930 562,931 563,931 565,932 567,932 568,933 570,933 571,933 573,933 575,933 576,933 578,932 580,932 581,932 583,931 584,930 586,930 587,929 589,928 590,927 591,925 592,924 594,923 595,922 596,920 596,919 597,917 598,916 599,914 599,913 599,911 600,909 600,908 600,906 600,904 600,903 600,901 599,900 599,898 598,896 598,895 597,894 596,892 595,891 594,890 593,888" fill="#F2F8FB" stroke="#F2F8FB"/>
<polygon points="650,892 648,891 647,890 646,888 644,887 642,886 641,885 639,885 638,884 636,883 634,883 633,882 631,882 629,882 628,881 626,881 625,881 623,882 622,882 620,882 619,883 618,883 616,884 615,885 614,886 613,887 612,888 612,889 611,890 610,891 610,893 610,894 609,895 609,897 609,898 609,900 609,902 609,903 610,905 610,907 611,908 612,910 612,912 613,913 614,915 615,916 616,918 617,919 619,921 620,922 621,923 623,925 624,926 626,927 627,928 629,929 631,930 632,931 634,931 635,932 637,932 639,933 640,933 642,933 644,933 645,933 647,933 648,932 649,932 651,932 652,931 653,930 654,930 655,929 656,928 657,927 658,926 659,924 659,923 660,922 660,920 660,919 661,917 661,916 661,914 660,913 660,911 660,909 659,908 659,906 658,904 657,903 657,901 656,900 655,898 654,897 652,895 651,894 650,892" fill="#F7B99B" stroke="#F7B99B"/>
<polygon points="714,889 713,888 711,887 710,886 708,885 707,884 706,883 704,883 702,882 701,882 699,882 698,881 696,881 694,881 693,882 691,882 689,882 688,883 686,883 685,884 683,884 682,885 680,886 679,887 678,888 677,889 676,891 675,892 674,893 673,895 672,896 671,898 671,899 670,901 670,903 670,904 670,906 670,907 670,909 670,911 670,912 671,914 671,916 672,917 673,919 673,920 674,921 675,923 676,924 677,925 679,926 680,928 681,929 683,929 684,930 686,931 687,931 689,932 690,932 692,933 694,933 695,933 697,933 699,933 700,933 702,932 703,932 705,931 707,931 708,930 709,929 711,928 712,927 713,926 715,925 716,924 717,922 718,921 718,920 719,918 720,917 720,915 721,913 721,912 721,910 721,909 721,907 721,905 721,904 721,902 720,900 720,899 719,897 719,896 718,894 717,893 716,892 715,890 714,889" fill="#FFFCFB" stroke="#FFFCFB"/>
<polygon points="776,888 775,887 773,886 772,885 771,884 769,883 768,883 766,882 765,882 763,882 762,881 760,881 758,881 757,882 755,882 753,882 752,883 750,883 749,884 747,885 746,885 744,886 743,887 741,888 740,890 739,891 738,892 736,893 735,895 734,896 734,898 733,899 732,901 732,903 731,904 731,906 731,908 731,909 731,911 731,913 731,914 731,916 731,917 732,919 733,920 733,922 734,923 735,924 736,925 737,927 738,928 739,929 740,929 742,930 743,931 745,932 746,932 748,932 749,933 751,933 753,933 754,933 756,933 757,933 759,932 761,932 762,931 764,931 766,930 767,929 769,928 770,927 771,926 773,925 774,924 775,922 776,921 777,919 778,918 779,916 780,915 780,913 781,912 781,910 782,908 782,907 782,905 782,903 782,902 782,900 782,899 781,897 781,896 780,894 779,893 779,891 778,890 777,889 776,888" fill="#E0EDF5" stroke="#E0EDF5"/>
<polygon points="837,887 836,886 835,885 833,884 832,884 831,883 829,883 828,882 826,882 825,882 823,881 822,881 820,881 818,882 817,882 815,882 813,883 812,883 810,884 809,885 807,886 806,887 804,888 803,889 801,890 800,891 799,893 798,894 797,896 796,897 795,899 794,900 793,902 793,904 792,905 792,907 791,908 791,910 791,912 791,913 791,915 792,917 792,918 792,920 793,921 794,922 794,924 795,925 796,926 797,927 798,928 799,929 801,930 802,931 803,931 805,932 806,932 808,933 809,933 811,933 812,933 814,933 816,933 817,932 819,932 821,932 822,931 824,930 826,929 827,929 829,928 830,927 831,925 833,924 834,923 835,922 836,920 837,919 838,917 839,916 840,914 841,912 841,911 842,909 842,908 843,906 843,904 843,903 843,901 843,899 842,898 842,896 842,895 841,893 840,892 840,891 839,889 838,888 837,887" fill="#D2E6F0" stroke="#D2E6F0"/>
<polygon points="897,888 896,887 895,886 894,885 892,884 891,883 889,883 888,882 886,882 885,882 883,881 882,881 880,881 878,882 877,882 875,882 873,883 872,883 870,884 869,885 867,885 866,886 864,887 863,888 861,890 860,891 859,892 858,894 857,895 856,897 855,898 854,900 854,901 853,903 853,904 852,906 852,908 852,909 852,911 852,913 852,914 852,916 853,917 853,919 854,920 855,922 855,923 856,924 857,926 858,927 859,928 861,929 862,930 863,930 865,931 866,932 868,932 869,932 871,933 872,933 874,933 875,933 877,933 879,933 880,932 882,932 884,931 885,931 887,930 888,929 890,928 891,927 893,926 894,925 895,923 896,922 898,921 899,919 899,918 900,916 901,915 902,913 902,912 903,910 903,908 903,907 904,905 904,903 903,902 903,900 903,898 903,897 902,895 902,894 901,893 900,891 899,890 898,889 897,888" fill="#DDECF4" stroke="#DDECF4"/>
<polygon points="958,888 956,887 955,886 954,885 953,884 951,884 950,883 948,882 947,882 945,882 943,881 942,881 940,881 938,881 937,882 935,882 934,882 932,883 930,884 929,884 927,885 926,886 924,887 923,888 922,889 921,890 919,892 918,893 917,895 916,896 916,897 915,899 914,901 914,902 913,904 913,906 913,907 913,909 913,910 913,912 913,914 913,915 914,917 914,918 915,920 916,921 916,923 917,924 918,925 919,926 921,927 922,928 923,929 924,930 926,931 927,931 929,932 930,932 932,933 934,933 935,933 937,933 938,933 940,933 942,932 943,932 945,931 947,931 948,930 950,929 951,928 953,927 954,926 955,925 956,924 958,923 959,921 960,920 961,918 961,917 962,915 963,914 963,912 964,910 964,909 964,907 964,906 964,904 964,902 964,901 964,899 963,897 963,896 962,895 961,893 961,892 960,890 959,889 958,888" fill="#E9F3F8" stroke="#E9F3F8"/>
<polygon points="1020,886 1019,885 1018,884 1017,884 1016,883 1014,883 1013,882 1012,882 1010,882 1009,881 1007,881 1005,881 1004,882 1002,882 1001,882 999,883 997,883 996,884 994,885 992,886 991,887 989,888 988,889 986,890 985,892 984,893 982,894 981,896 980,897 979,899 978,900 977,902 976,904 975,905 975,907 974,909 974,910 974,912 973,913 973,915 973,917 974,918 974,920 974,921 975,922 975,924 976,925 976,926 977,927 978,928 979,929 980,930 981,931 983,931 984,932 985,932 987,933 988,933 990,933 991,933 993,933 995,933 996,932 998,932 999,931 1001,931 1003,930 1004,929 1006,929 1008,928 1009,926 1011,925 1012,924 1014,923 1015,921 1016,920 1017,919 1018,917 1020,916 1021,914 1021,912 1022,911 1023,909 1024,907 1024,906 1024,904 1025,903 1025,901 1025,899 1025,898 1025,896 1025,895 1024,893 1024,892 1023,891 1023,889 1022,888 1021,887 1020,886" fill="#A9D1E5" stroke="#A9D1E5"/>
<polyline points="1086,881 1086,882 1085,882 1084,883 1083,884 1082,885 1082,886 1081,886 1080,888 1078,889 1077,890 1076,891 1075,892 1073,894 1072,895 1070,897 1069,898 1067,900 1066,901 1064,903 1062,905 1061,906 1059,908 1057,910 1056,911 1054,913 1053,915 1051,916 1049,918 1048,919 1047,921 1045,922 1044,923 1043,925 1041,926 1040,927 1039,928 1038,929 1037,930 1036,931 1035,932 1035,933 1034,933 1035,933 1035,932 1036,931 1037,930 1038,929 1039,928 1040,927 1041,926 1043,925 1044,923 1045,922 1047,921 1048,919 1049,918 1051,916 1053,915 1054,913 1056,911 1057,910 1059,908 1061,906 1062,905 1064,903 1066,901 1067,900 1069,898 1070,897 1072,895 1073,894 1075,892 1076,891 1077,890 1078,889 1080,888 1081,886 1082,886 1082,885 1083,884 1084,883 1085,882 1086,882 1086,881" fill="none" stroke="#053061" stroke-width="2.2"/>
</g>
<g shape-rendering="crispEdges" stroke="#BEBEBE" stroke-width="2" fill="none">
<line x1="422" y1="268" x2="422" y2="939"/>
<line x1="421" y1="269" x2="1091" y2="269"/>
<line x1="483" y1="268" x2="483" y2="939"/>
<line x1="421" y1="330" x2="1091" y2="330"/>
<line x1="544" y1="268" x2="544" y2="939"/>
<line x1="421" y1="391" x2="1091" y2="391"/>
<line x1="605" y1="268" x2="605" y2="939"/>
<line x1="421" y1="452" x2="1091" y2="452"/>
<line x1="665" y1="268" x2="665" y2="939"/>
<line x1="421" y1="512" x2="1091" y2="512"/>
<line x1="726" y1="268" x2="726" y2="939"/>
<line x1="421" y1="573" x2="1091" y2="573"/>
<line x1="787" y1="268" x2="787" y2="939"/>
<line x1="421" y1="634" x2="1091" y2="634"/>
<line x1="847" y1="268" x2="847" y2="939"/>
<line x1="421" y1="695" x2="1091" y2="695"/>
<line x1="908" y1="268" x2="908" y2="939"/>
<line x1="421" y1="755" x2="1091" y2="755"/>
<line x1="969" y1="268" x2="969" y2="939"/>
<line x1="421" y1="816" x2="1091" y2="816"/>
<line x1="1030" y1="268" x2="1030" y2="939"/>
<line x1="421" y1="877" x2="1091" y2="877"/>
<line x1="1090" y1="268" x2="1090" y2="939"/>
<line x1="421" y1="938" x2="1091" y2="938"/>
</g>
<g shape-rendering="crispEdges" stroke="#000" stroke-width="4" fill="none" stroke-linejoin="round">
<rect x="422" y="269" width="304" height="304"/>
<rect x="726" y="573" width="121" height="122"/>
<rect x="847" y="695" width="243" height="243"/>
</g>
<g font-family="'Liberation Sans', Arial, sans-serif" font-size="32" fill="#000" stroke="#000" stroke-width="0.35">
<text y="310.0"><tspan x="214.4" textLength="95.4" lengthAdjust="spacingAndGlyphs">volatile</tspan> <tspan x="319.2" textLength="87.0" lengthAdjust="spacingAndGlyphs">acidity</tspan></text>
<text y="371.2"><tspan x="280.3" textLength="126.9" lengthAdjust="spacingAndGlyphs">chlorides</tspan></text>
<text y="432.0"><tspan x="271.1" textLength="136.1" lengthAdjust="spacingAndGlyphs">sulphates</tspan></text>
<text y="492.6"><tspan x="365.7" textLength="41.9" lengthAdjust="spacingAndGlyphs">pH</tspan></text>
<text y="553.0"><tspan x="307.3" textLength="100.1" lengthAdjust="spacingAndGlyphs">alcohol</tspan></text>
<text y="614.2"><tspan x="158.8" textLength="54.3" lengthAdjust="spacingAndGlyphs">free</tspan> <tspan x="221.9" textLength="79.9" lengthAdjust="spacingAndGlyphs">sulfur</tspan> <tspan x="310.9" textLength="96.6" lengthAdjust="spacingAndGlyphs">dioxide</tspan></text>
<text y="674.3"><tspan x="154.6" textLength="58.3" lengthAdjust="spacingAndGlyphs">total</tspan> <tspan x="221.9" textLength="79.9" lengthAdjust="spacingAndGlyphs">sulfur</tspan> <tspan x="310.9" textLength="96.6" lengthAdjust="spacingAndGlyphs">dioxide</tspan></text>
<text y="735.8"><tspan x="207.8" textLength="111.3" lengthAdjust="spacingAndGlyphs">residual</tspan> <tspan x="327.5" textLength="79.2" lengthAdjust="spacingAndGlyphs">sugar</tspan></text>
<text y="796.1"><tspan x="306.7" textLength="100.4" lengthAdjust="spacingAndGlyphs">density</tspan></text>
<text y="856.7"><tspan x="246.2" textLength="62.9" lengthAdjust="spacingAndGlyphs">fixed</tspan> <tspan x="318.6" textLength="87.8" lengthAdjust="spacingAndGlyphs">acidity</tspan></text>
<text y="917.5"><tspan x="274.8" textLength="66.4" lengthAdjust="spacingAndGlyphs">citric</tspan> <tspan x="349.4" textLength="58.3" lengthAdjust="spacingAndGlyphs">acid</tspan></text>
<text transform="translate(462.8,256.0) rotate(-90)">volatile acidity</text>
<text transform="translate(525.9,256.0) rotate(-90)">chlorides</text>
<text transform="translate(583.8,256.0) rotate(-90)">sulphates</text>
<text transform="translate(644.6,256.0) rotate(-90)">pH</text>
<text transform="translate(707.9,256.0) rotate(-90)">alcohol</text>
<text transform="translate(769.1,256.0) rotate(-90)" textLength="254.8">free sulfur dioxide</text>
<text transform="translate(829.9,256.0) rotate(-90)" textLength="260.2">total sulfur dioxide</text>
<text transform="translate(887.5,256.8) rotate(-90)" textLength="203.6">residual sugar</text>
<text transform="translate(947.8,256.0) rotate(-90)">density</text>
<text transform="translate(1009.0,256.0) rotate(-90)">fixed acidity</text>
<text transform="translate(1072.9,256.0) rotate(-90)">citric acid</text>
</g>
<g shape-rendering="crispEdges">
<rect x="1102.0" y="934.65" width="24.0" height="3.95" fill="#67001F"/>
<rect x="1102.0" y="931.31" width="24.0" height="3.95" fill="#6B0120"/>
<rect x="1102.0" y="927.97" width="24.0" height="3.95" fill="#6F0220"/>
<rect x="1102.0" y="924.62" width="24.0" height="3.95" fill="#720421"/>
<rect x="1102.0" y="921.27" width="24.0" height="3.95" fill="#760521"/>
<rect x="1102.0" y="917.93" width="24.0" height="3.95" fill="#7A0622"/>
<rect x="1102.0" y="914.59" width="24.0" height="3.95" fill="#7E0723"/>
<rect x="1102.0" y="911.24" width="24.0" height="3.95" fill="#810823"/>
<rect x="1102.0" y="907.89" width="24.0" height="3.95" fill="#850A24"/>
<rect x="1102.0" y="904.55" width="24.0" height="3.95" fill="#890B24"/>
<rect x="1102.0" y="901.21" width="24.0" height="3.95" fill="#8D0C25"/>
<rect x="1102.0" y="897.86" width="24.0" height="3.95" fill="#900D26"/>
<rect x="1102.0" y="894.51" width="24.0" height="3.95" fill="#940E26"/>
<rect x="1102.0" y="891.17" width="24.0" height="3.95" fill="#981027"/>
<rect x="1102.0" y="887.83" width="24.0" height="3.95" fill="#9C1127"/>
<rect x="1102.0" y="884.48" width="24.0" height="3.95" fill="#A01228"/>
<rect x="1102.0" y="881.13" width="24.0" height="3.95" fill="#A31329"/>
<rect x="1102.0" y="877.79" width="24.0" height="3.95" fill="#A71529"/>
<rect x="1102.0" y="874.44" width="24.0" height="3.95" fill="#AB162A"/>
<rect x="1102.0" y="871.10" width="24.0" height="3.95" fill="#AF172A"/>
<rect x="1102.0" y="867.75" width="24.0" height="3.95" fill="#B2182B"/>
<rect x="1102.0" y="864.41" width="24.0" height="3.95" fill="#B41C2D"/>
<rect x="1102.0" y="861.07" width="24.0" height="3.95" fill="#B6202F"/>
<rect x="1102.0" y="857.72" width="24.0" height="3.95" fill="#B82330"/>
<rect x="1102.0" y="854.38" width="24.0" height="3.95" fill="#B92732"/>
<rect x="1102.0" y="851.03" width="24.0" height="3.95" fill="#BB2A34"/>
<rect x="1102.0" y="847.68" width="24.0" height="3.95" fill="#BD2E35"/>
<rect x="1102.0" y="844.34" width="24.0" height="3.95" fill="#BF3237"/>
<rect x="1102.0" y="841.00" width="24.0" height="3.95" fill="#C13539"/>
<rect x="1102.0" y="837.65" width="24.0" height="3.95" fill="#C2393B"/>
<rect x="1102.0" y="834.30" width="24.0" height="3.95" fill="#C43D3C"/>
<rect x="1102.0" y="830.96" width="24.0" height="3.95" fill="#C6403E"/>
<rect x="1102.0" y="827.62" width="24.0" height="3.95" fill="#C84440"/>
<rect x="1102.0" y="824.27" width="24.0" height="3.95" fill="#CA4741"/>
<rect x="1102.0" y="820.92" width="24.0" height="3.95" fill="#CC4B43"/>
<rect x="1102.0" y="817.58" width="24.0" height="3.95" fill="#CD4F45"/>
<rect x="1102.0" y="814.24" width="24.0" height="3.95" fill="#CF5247"/>
<rect x="1102.0" y="810.89" width="24.0" height="3.95" fill="#D15648"/>
<rect x="1102.0" y="807.54" width="24.0" height="3.95" fill="#D3594A"/>
<rect x="1102.0" y="804.20" width="24.0" height="3.95" fill="#D55D4C"/>
<rect x="1102.0" y="800.86" width="24.0" height="3.95" fill="#D6614E"/>
<rect x="1102.0" y="797.51" width="24.0" height="3.95" fill="#D86450"/>
<rect x="1102.0" y="794.16" width="24.0" height="3.95" fill="#D96853"/>
<rect x="1102.0" y="790.82" width="24.0" height="3.95" fill="#DB6B56"/>
<rect x="1102.0" y="787.48" width="24.0" height="3.95" fill="#DC6F58"/>
<rect x="1102.0" y="784.13" width="24.0" height="3.95" fill="#DE725B"/>
<rect x="1102.0" y="780.78" width="24.0" height="3.95" fill="#DF755E"/>
<rect x="1102.0" y="777.44" width="24.0" height="3.95" fill="#E17960"/>
<rect x="1102.0" y="774.10" width="24.0" height="3.95" fill="#E27C63"/>
<rect x="1102.0" y="770.75" width="24.0" height="3.95" fill="#E48066"/>
<rect x="1102.0" y="767.40" width="24.0" height="3.95" fill="#E58368"/>
<rect x="1102.0" y="764.06" width="24.0" height="3.95" fill="#E7876B"/>
<rect x="1102.0" y="760.72" width="24.0" height="3.95" fill="#E88A6D"/>
<rect x="1102.0" y="757.37" width="24.0" height="3.95" fill="#EA8E70"/>
<rect x="1102.0" y="754.02" width="24.0" height="3.95" fill="#EB9173"/>
<rect x="1102.0" y="750.68" width="24.0" height="3.95" fill="#ED9575"/>
<rect x="1102.0" y="747.34" width="24.0" height="3.95" fill="#EE9878"/>
<rect x="1102.0" y="743.99" width="24.0" height="3.95" fill="#F09C7B"/>
<rect x="1102.0" y="740.64" width="24.0" height="3.95" fill="#F19F7D"/>
<rect x="1102.0" y="737.30" width="24.0" height="3.95" fill="#F3A380"/>
<rect x="1102.0" y="733.95" width="24.0" height="3.95" fill="#F4A683"/>
<rect x="1102.0" y="730.61" width="24.0" height="3.95" fill="#F5A987"/>
<rect x="1102.0" y="727.26" width="24.0" height="3.95" fill="#F5AB8A"/>
<rect x="1102.0" y="723.92" width="24.0" height="3.95" fill="#F5AE8D"/>
<rect x="1102.0" y="720.58" width="24.0" height="3.95" fill="#F6B191"/>
<rect x="1102.0" y="717.23" width="24.0" height="3.95" fill="#F6B394"/>
<rect x="1102.0" y="713.88" width="24.0" height="3.95" fill="#F7B698"/>
<rect x="1102.0" y="710.54" width="24.0" height="3.95" fill="#F7B99B"/>
<rect x="1102.0" y="707.19" width="24.0" height="3.95" fill="#F8BC9F"/>
<rect x="1102.0" y="703.85" width="24.0" height="3.95" fill="#F8BEA2"/>
<rect x="1102.0" y="700.50" width="24.0" height="3.95" fill="#F9C1A6"/>
<rect x="1102.0" y="697.16" width="24.0" height="3.95" fill="#F9C4A9"/>
<rect x="1102.0" y="693.82" width="24.0" height="3.95" fill="#FAC6AD"/>
<rect x="1102.0" y="690.47" width="24.0" height="3.95" fill="#FAC9B0"/>
<rect x="1102.0" y="687.12" width="24.0" height="3.95" fill="#FACCB4"/>
<rect x="1102.0" y="683.78" width="24.0" height="3.95" fill="#FBCFB7"/>
<rect x="1102.0" y="680.43" width="24.0" height="3.95" fill="#FBD1BB"/>
<rect x="1102.0" y="677.09" width="24.0" height="3.95" fill="#FCD4BE"/>
<rect x="1102.0" y="673.75" width="24.0" height="3.95" fill="#FCD7C1"/>
<rect x="1102.0" y="670.40" width="24.0" height="3.95" fill="#FDD9C5"/>
<rect x="1102.0" y="667.06" width="24.0" height="3.95" fill="#FDDCC8"/>
<rect x="1102.0" y="663.71" width="24.0" height="3.95" fill="#FDDECB"/>
<rect x="1102.0" y="660.37" width="24.0" height="3.95" fill="#FDDFCE"/>
<rect x="1102.0" y="657.02" width="24.0" height="3.95" fill="#FDE1D1"/>
<rect x="1102.0" y="653.67" width="24.0" height="3.95" fill="#FDE3D3"/>
<rect x="1102.0" y="650.33" width="24.0" height="3.95" fill="#FEE5D6"/>
<rect x="1102.0" y="646.98" width="24.0" height="3.95" fill="#FEE7D9"/>
<rect x="1102.0" y="643.64" width="24.0" height="3.95" fill="#FEE8DC"/>
<rect x="1102.0" y="640.29" width="24.0" height="3.95" fill="#FEEADF"/>
<rect x="1102.0" y="636.95" width="24.0" height="3.95" fill="#FEECE1"/>
<rect x="1102.0" y="633.61" width="24.0" height="3.95" fill="#FEEEE4"/>
<rect x="1102.0" y="630.26" width="24.0" height="3.95" fill="#FEF0E7"/>
<rect x="1102.0" y="626.91" width="24.0" height="3.95" fill="#FEF1EA"/>
<rect x="1102.0" y="623.57" width="24.0" height="3.95" fill="#FEF3ED"/>
<rect x="1102.0" y="620.22" width="24.0" height="3.95" fill="#FEF5F0"/>
<rect x="1102.0" y="616.88" width="24.0" height="3.95" fill="#FFF7F2"/>
<rect x="1102.0" y="613.53" width="24.0" height="3.95" fill="#FFF9F5"/>
<rect x="1102.0" y="610.19" width="24.0" height="3.95" fill="#FFFAF8"/>
<rect x="1102.0" y="606.85" width="24.0" height="3.95" fill="#FFFCFB"/>
<rect x="1102.0" y="603.50" width="24.0" height="3.95" fill="#FFFEFE"/>
<rect x="1102.0" y="600.15" width="24.0" height="3.95" fill="#FEFEFF"/>
<rect x="1102.0" y="596.81" width="24.0" height="3.95" fill="#FCFDFE"/>
<rect x="1102.0" y="593.46" width="24.0" height="3.95" fill="#F9FCFD"/>
<rect x="1102.0" y="590.12" width="24.0" height="3.95" fill="#F7FAFC"/>
<rect x="1102.0" y="586.77" width="24.0" height="3.95" fill="#F5F9FC"/>
<rect x="1102.0" y="583.43" width="24.0" height="3.95" fill="#F2F8FB"/>
<rect x="1102.0" y="580.09" width="24.0" height="3.95" fill="#F0F7FA"/>
<rect x="1102.0" y="576.74" width="24.0" height="3.95" fill="#EEF5F9"/>
<rect x="1102.0" y="573.39" width="24.0" height="3.95" fill="#EBF4F9"/>
<rect x="1102.0" y="570.05" width="24.0" height="3.95" fill="#E9F3F8"/>
<rect x="1102.0" y="566.70" width="24.0" height="3.95" fill="#E7F1F7"/>
<rect x="1102.0" y="563.36" width="24.0" height="3.95" fill="#E4F0F6"/>
<rect x="1102.0" y="560.01" width="24.0" height="3.95" fill="#E2EFF6"/>
<rect x="1102.0" y="556.67" width="24.0" height="3.95" fill="#E0EDF5"/>
<rect x="1102.0" y="553.33" width="24.0" height="3.95" fill="#DDECF4"/>
<rect x="1102.0" y="549.98" width="24.0" height="3.95" fill="#DBEBF3"/>
<rect x="1102.0" y="546.63" width="24.0" height="3.95" fill="#D9E9F3"/>
<rect x="1102.0" y="543.29" width="24.0" height="3.95" fill="#D7E8F2"/>
<rect x="1102.0" y="539.94" width="24.0" height="3.95" fill="#D4E7F1"/>
<rect x="1102.0" y="536.60" width="24.0" height="3.95" fill="#D2E6F0"/>
<rect x="1102.0" y="533.25" width="24.0" height="3.95" fill="#CFE4EF"/>
<rect x="1102.0" y="529.91" width="24.0" height="3.95" fill="#CCE2EF"/>
<rect x="1102.0" y="526.57" width="24.0" height="3.95" fill="#C9E1EE"/>
<rect x="1102.0" y="523.22" width="24.0" height="3.95" fill="#C6DFED"/>
<rect x="1102.0" y="519.88" width="24.0" height="3.95" fill="#C2DEEC"/>
<rect x="1102.0" y="516.53" width="24.0" height="3.95" fill="#BFDCEB"/>
<rect x="1102.0" y="513.18" width="24.0" height="3.95" fill="#BCDAEA"/>
<rect x="1102.0" y="509.84" width="24.0" height="3.95" fill="#B9D9E9"/>
<rect x="1102.0" y="506.49" width="24.0" height="3.95" fill="#B6D7E8"/>
<rect x="1102.0" y="503.15" width="24.0" height="3.95" fill="#B3D6E7"/>
<rect x="1102.0" y="499.80" width="24.0" height="3.95" fill="#AFD4E6"/>
<rect x="1102.0" y="496.46" width="24.0" height="3.95" fill="#ACD2E6"/>
<rect x="1102.0" y="493.11" width="24.0" height="3.95" fill="#A9D1E5"/>
<rect x="1102.0" y="489.77" width="24.0" height="3.95" fill="#A6CFE4"/>
<rect x="1102.0" y="486.42" width="24.0" height="3.95" fill="#A3CEE3"/>
<rect x="1102.0" y="483.08" width="24.0" height="3.95" fill="#A0CCE2"/>
<rect x="1102.0" y="479.73" width="24.0" height="3.95" fill="#9CCAE1"/>
<rect x="1102.0" y="476.39" width="24.0" height="3.95" fill="#99C9E0"/>
<rect x="1102.0" y="473.04" width="24.0" height="3.95" fill="#96C7DF"/>
<rect x="1102.0" y="469.70" width="24.0" height="3.95" fill="#93C5DE"/>
<rect x="1102.0" y="466.35" width="24.0" height="3.95" fill="#8FC3DD"/>
<rect x="1102.0" y="463.01" width="24.0" height="3.95" fill="#8BC1DC"/>
<rect x="1102.0" y="459.66" width="24.0" height="3.95" fill="#87BEDA"/>
<rect x="1102.0" y="456.32" width="24.0" height="3.95" fill="#83BCD9"/>
<rect x="1102.0" y="452.97" width="24.0" height="3.95" fill="#7FB9D8"/>
<rect x="1102.0" y="449.63" width="24.0" height="3.95" fill="#7BB7D6"/>
<rect x="1102.0" y="446.28" width="24.0" height="3.95" fill="#77B4D5"/>
<rect x="1102.0" y="442.94" width="24.0" height="3.95" fill="#73B2D4"/>
<rect x="1102.0" y="439.59" width="24.0" height="3.95" fill="#6FAFD2"/>
<rect x="1102.0" y="436.25" width="24.0" height="3.95" fill="#6BADD1"/>
<rect x="1102.0" y="432.90" width="24.0" height="3.95" fill="#68AACF"/>
<rect x="1102.0" y="429.56" width="24.0" height="3.95" fill="#64A8CE"/>
<rect x="1102.0" y="426.21" width="24.0" height="3.95" fill="#60A5CD"/>
<rect x="1102.0" y="422.87" width="24.0" height="3.95" fill="#5CA3CB"/>
<rect x="1102.0" y="419.52" width="24.0" height="3.95" fill="#58A0CA"/>
<rect x="1102.0" y="416.18" width="24.0" height="3.95" fill="#549EC9"/>
<rect x="1102.0" y="412.83" width="24.0" height="3.95" fill="#509BC7"/>
<rect x="1102.0" y="409.49" width="24.0" height="3.95" fill="#4C99C6"/>
<rect x="1102.0" y="406.14" width="24.0" height="3.95" fill="#4896C5"/>
<rect x="1102.0" y="402.80" width="24.0" height="3.95" fill="#4494C3"/>
<rect x="1102.0" y="399.45" width="24.0" height="3.95" fill="#4291C2"/>
<rect x="1102.0" y="396.11" width="24.0" height="3.95" fill="#408FC1"/>
<rect x="1102.0" y="392.76" width="24.0" height="3.95" fill="#3E8DC0"/>
<rect x="1102.0" y="389.42" width="24.0" height="3.95" fill="#3D8ABF"/>
<rect x="1102.0" y="386.07" width="24.0" height="3.95" fill="#3B88BD"/>
<rect x="1102.0" y="382.73" width="24.0" height="3.95" fill="#3986BC"/>
<rect x="1102.0" y="379.38" width="24.0" height="3.95" fill="#3784BB"/>
<rect x="1102.0" y="376.04" width="24.0" height="3.95" fill="#3681BA"/>
<rect x="1102.0" y="372.69" width="24.0" height="3.95" fill="#347FB9"/>
<rect x="1102.0" y="369.35" width="24.0" height="3.95" fill="#327DB8"/>
<rect x="1102.0" y="366.00" width="24.0" height="3.95" fill="#317BB7"/>
<rect x="1102.0" y="362.66" width="24.0" height="3.95" fill="#2F78B5"/>
<rect x="1102.0" y="359.31" width="24.0" height="3.95" fill="#2D76B4"/>
<rect x="1102.0" y="355.97" width="24.0" height="3.95" fill="#2B74B3"/>
<rect x="1102.0" y="352.62" width="24.0" height="3.95" fill="#2A72B2"/>
<rect x="1102.0" y="349.28" width="24.0" height="3.95" fill="#286FB1"/>
<rect x="1102.0" y="345.93" width="24.0" height="3.95" fill="#266DB0"/>
<rect x="1102.0" y="342.59" width="24.0" height="3.95" fill="#256BAE"/>
<rect x="1102.0" y="339.25" width="24.0" height="3.95" fill="#2368AD"/>
<rect x="1102.0" y="335.90" width="24.0" height="3.95" fill="#2166AC"/>
<rect x="1102.0" y="332.55" width="24.0" height="3.95" fill="#2064A9"/>
<rect x="1102.0" y="329.21" width="24.0" height="3.95" fill="#1E61A5"/>
<rect x="1102.0" y="325.87" width="24.0" height="3.95" fill="#1D5EA1"/>
<rect x="1102.0" y="322.52" width="24.0" height="3.95" fill="#1C5B9D"/>
<rect x="1102.0" y="319.17" width="24.0" height="3.95" fill="#1A599A"/>
<rect x="1102.0" y="315.83" width="24.0" height="3.95" fill="#195696"/>
<rect x="1102.0" y="312.49" width="24.0" height="3.95" fill="#175392"/>
<rect x="1102.0" y="309.14" width="24.0" height="3.95" fill="#16518E"/>
<rect x="1102.0" y="305.79" width="24.0" height="3.95" fill="#144E8A"/>
<rect x="1102.0" y="302.45" width="24.0" height="3.95" fill="#134B87"/>
<rect x="1102.0" y="299.11" width="24.0" height="3.95" fill="#124883"/>
<rect x="1102.0" y="295.76" width="24.0" height="3.95" fill="#10467F"/>
<rect x="1102.0" y="292.41" width="24.0" height="3.95" fill="#0F437B"/>
<rect x="1102.0" y="289.07" width="24.0" height="3.95" fill="#0D4078"/>
<rect x="1102.0" y="285.72" width="24.0" height="3.95" fill="#0C3E74"/>
<rect x="1102.0" y="282.38" width="24.0" height="3.95" fill="#0B3B70"/>
<rect x="1102.0" y="279.03" width="24.0" height="3.95" fill="#09386C"/>
<rect x="1102.0" y="275.69" width="24.0" height="3.95" fill="#083569"/>
<rect x="1102.0" y="272.34" width="24.0" height="3.95" fill="#063365"/>
<rect x="1102.0" y="269.00" width="24.0" height="3.95" fill="#053061"/>
<rect x="1102.0" y="269.0" width="24.0" height="669.0" fill="none" stroke="#000" stroke-width="2"/>
<line x1="1126.0" y1="269" x2="1132" y2="269" stroke="#000" stroke-width="2"/>
<line x1="1126.0" y1="336" x2="1132" y2="336" stroke="#000" stroke-width="2"/>
<line x1="1126.0" y1="403" x2="1132" y2="403" stroke="#000" stroke-width="2"/>
<line x1="1126.0" y1="470" x2="1132" y2="470" stroke="#000" stroke-width="2"/>
<line x1="1126.0" y1="537" x2="1132" y2="537" stroke="#000" stroke-width="2"/>
<line x1="1126.0" y1="604" x2="1132" y2="604" stroke="#000" stroke-width="2"/>
<line x1="1126.0" y1="670" x2="1132" y2="670" stroke="#000" stroke-width="2"/>
<line x1="1126.0" y1="737" x2="1132" y2="737" stroke="#000" stroke-width="2"/>
<line x1="1126.0" y1="804" x2="1132" y2="804" stroke="#000" stroke-width="2"/>
<line x1="1126.0" y1="871" x2="1132" y2="871" stroke="#000" stroke-width="2"/>
<line x1="1126.0" y1="938" x2="1132" y2="938" stroke="#000" stroke-width="2"/>
</g>
<g font-family="'Liberation Sans', Arial, sans-serif" font-size="25.6" fill="#000" stroke="#000" stroke-width="0.3" text-anchor="middle">
<text x="1150.2" y="280.0" text-anchor="start">1</text>
<text x="1155.8" y="346.7" textLength="34.7" lengthAdjust="spacingAndGlyphs">0.8</text>
<text x="1155.8" y="413.6" textLength="34.7" lengthAdjust="spacingAndGlyphs">0.6</text>
<text x="1155.8" y="480.5" textLength="34.7" lengthAdjust="spacingAndGlyphs">0.4</text>
<text x="1155.8" y="547.4" textLength="34.7" lengthAdjust="spacingAndGlyphs">0.2</text>
<text x="1156.2" y="614.3">0</text>
<text x="1156.2" y="681.2">-0.2</text>
<text x="1156.2" y="748.1">-0.4</text>
<text x="1156.2" y="815.0">-0.6</text>
<text x="1156.2" y="881.9">-0.8</text>
<text x="1144.3" y="949.0" text-anchor="start">-<tspan dx="1.7">1</tspan></text>
</g>
<rect x="1150.8" y="277.5" width="5.5" height="4" fill="#fff"/>
<rect x="1159.2" y="277.5" width="5.8" height="4" fill="#fff"/>
<rect x="1155.1" y="946.5" width="5.5" height="4" fill="#fff"/>
<rect x="1163.5" y="946.5" width="5.8" height="4" fill="#fff"/>
</svg>
</body></html>
